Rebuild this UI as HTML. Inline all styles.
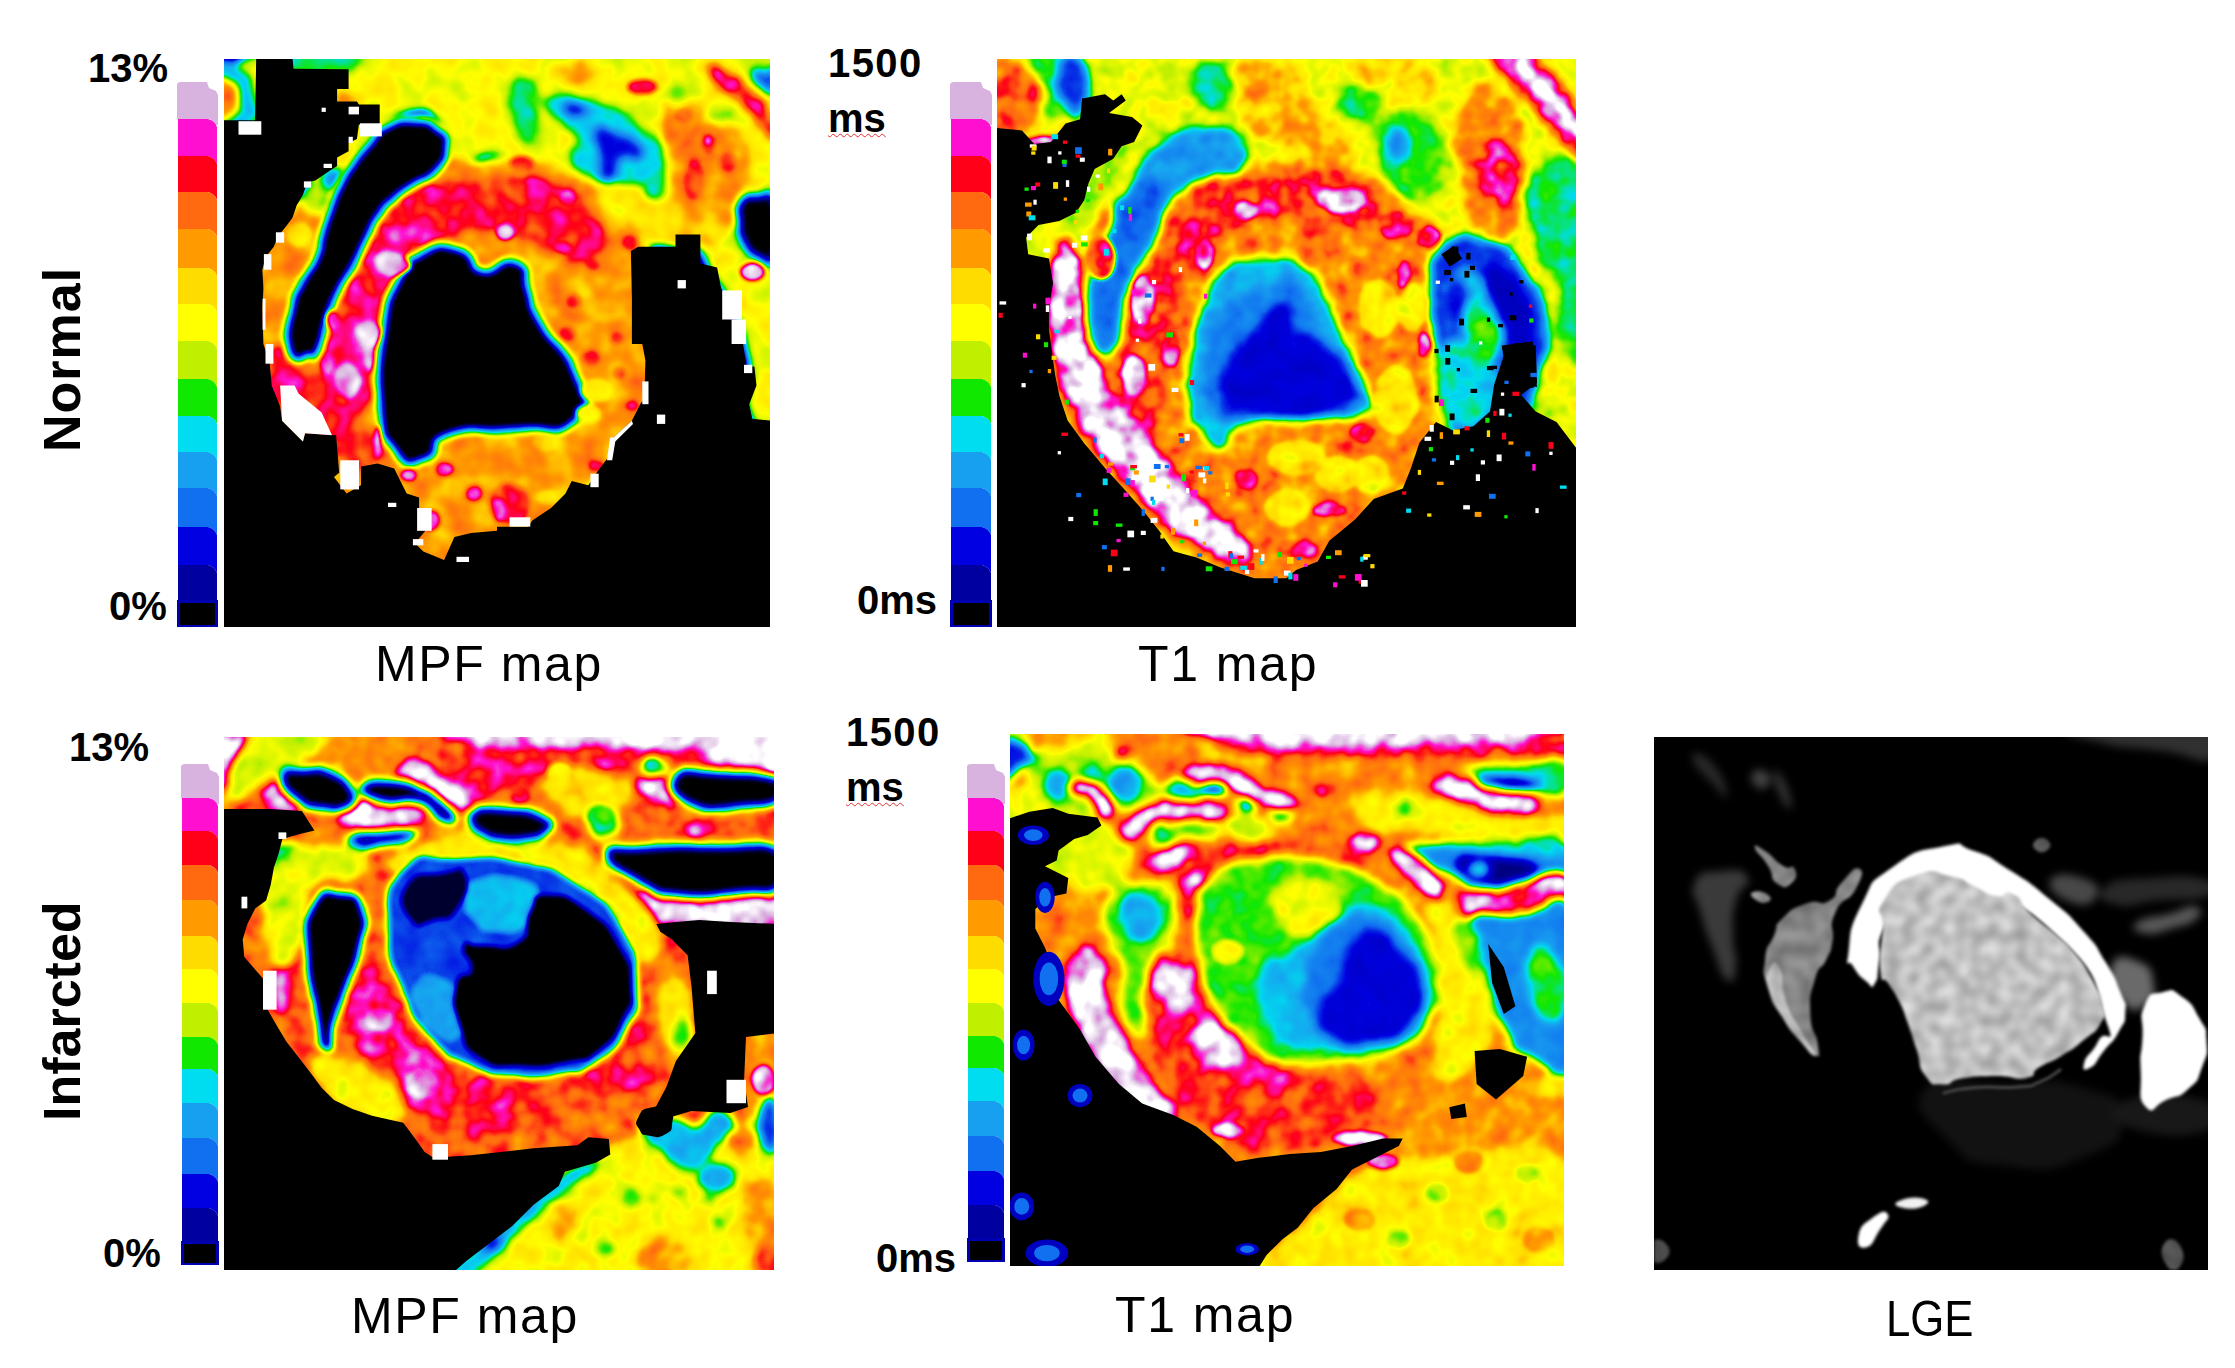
<!DOCTYPE html>
<html><head><meta charset="utf-8"><title>MPF / T1 / LGE maps</title>
<style>
html,body{margin:0;padding:0;background:#fff;}
body{width:2235px;height:1368px;position:relative;overflow:hidden;font-family:"Liberation Sans",sans-serif;color:#000;}
.abs{position:absolute;display:block;}
.t{position:absolute;white-space:nowrap;line-height:1;}
.b{font-weight:bold;}
.rot{transform-origin:0 0;transform:rotate(-90deg);}
.sq{text-decoration:underline wavy #e03030 1px;text-underline-offset:1px;}
</style></head><body>
<svg class="abs" style="left:177px;top:82px" width="41" height="545" viewBox="0 0 41 545"><path d="M0 37 L0 3 Q0 0 4 0 L30 0 L32 6 L39 9 L41 13 L41 43 L37 43 L33 37Z" fill="#d9b3e0"/><path d="M1 37 L31 37 Q38 39 40 45 L40 82 Q38 76 31 74 L1 74Z" fill="#ff10d0"/><path d="M1 74 L31 74 Q38 76 40 82 L40 118 Q38 112 31 110 L1 110Z" fill="#ff0018"/><path d="M1 110 L31 110 Q38 112 40 118 L40 155 Q38 149 31 147 L1 147Z" fill="#ff6a10"/><path d="M1 147 L31 147 Q38 149 40 155 L40 194 Q38 188 31 186 L1 186Z" fill="#ff9a00"/><path d="M1 186 L31 186 Q38 188 40 194 L40 230 Q38 224 31 222 L1 222Z" fill="#ffdc00"/><path d="M1 222 L31 222 Q38 224 40 230 L40 267 Q38 261 31 259 L1 259Z" fill="#ffff00"/><path d="M1 259 L31 259 Q38 261 40 267 L40 305 Q38 299 31 297 L1 297Z" fill="#c0f000"/><path d="M1 297 L31 297 Q38 299 40 305 L40 342 Q38 336 31 334 L1 334Z" fill="#10e800"/><path d="M1 334 L31 334 Q38 336 40 342 L40 378 Q38 372 31 370 L1 370Z" fill="#00dcf0"/><path d="M1 370 L31 370 Q38 372 40 378 L40 414 Q38 408 31 406 L1 406Z" fill="#18a0f0"/><path d="M1 406 L31 406 Q38 408 40 414 L40 453 Q38 447 31 445 L1 445Z" fill="#1070f0"/><path d="M1 445 L31 445 Q38 447 40 453 L40 491 Q38 485 31 483 L1 483Z" fill="#0000e0"/><path d="M1 483 L31 483 Q38 485 40 491 L40 526 Q38 520 31 518 L1 518Z" fill="#0000a0"/><rect x="0" y="518" width="41" height="27" fill="#0000b0"/><rect x="3" y="521" width="35" height="22" fill="#000000"/></svg>
<svg class="abs" style="left:950px;top:82px" width="42" height="545" viewBox="0 0 42 545"><path d="M0 37 L0 3 Q0 0 4 0 L31 0 L33 6 L40 9 L42 13 L42 43 L38 43 L34 37Z" fill="#d9b3e0"/><path d="M1 37 L32 37 Q39 39 41 45 L41 82 Q39 76 32 74 L1 74Z" fill="#ff10d0"/><path d="M1 74 L32 74 Q39 76 41 82 L41 118 Q39 112 32 110 L1 110Z" fill="#ff0018"/><path d="M1 110 L32 110 Q39 112 41 118 L41 155 Q39 149 32 147 L1 147Z" fill="#ff6a10"/><path d="M1 147 L32 147 Q39 149 41 155 L41 194 Q39 188 32 186 L1 186Z" fill="#ff9a00"/><path d="M1 186 L32 186 Q39 188 41 194 L41 230 Q39 224 32 222 L1 222Z" fill="#ffdc00"/><path d="M1 222 L32 222 Q39 224 41 230 L41 267 Q39 261 32 259 L1 259Z" fill="#ffff00"/><path d="M1 259 L32 259 Q39 261 41 267 L41 305 Q39 299 32 297 L1 297Z" fill="#c0f000"/><path d="M1 297 L32 297 Q39 299 41 305 L41 342 Q39 336 32 334 L1 334Z" fill="#10e800"/><path d="M1 334 L32 334 Q39 336 41 342 L41 378 Q39 372 32 370 L1 370Z" fill="#00dcf0"/><path d="M1 370 L32 370 Q39 372 41 378 L41 414 Q39 408 32 406 L1 406Z" fill="#18a0f0"/><path d="M1 406 L32 406 Q39 408 41 414 L41 453 Q39 447 32 445 L1 445Z" fill="#1070f0"/><path d="M1 445 L32 445 Q39 447 41 453 L41 491 Q39 485 32 483 L1 483Z" fill="#0000e0"/><path d="M1 483 L32 483 Q39 485 41 491 L41 526 Q39 520 32 518 L1 518Z" fill="#0000a0"/><rect x="0" y="518" width="42" height="27" fill="#0000b0"/><rect x="3" y="521" width="36" height="22" fill="#000000"/></svg>
<svg class="abs" style="left:181px;top:764px" width="38" height="501" viewBox="0 0 38 501"><path d="M0 34 L0 3 Q0 0 4 0 L27 0 L29 6 L36 9 L38 13 L38 40 L34 40 L30 34Z" fill="#d9b3e0"/><path d="M1 34 L28 34 Q35 36 37 42 L37 75 Q35 69 28 67 L1 67Z" fill="#ff10d0"/><path d="M1 67 L28 67 Q35 69 37 75 L37 109 Q35 103 28 101 L1 101Z" fill="#ff0018"/><path d="M1 101 L28 101 Q35 103 37 109 L37 144 Q35 138 28 136 L1 136Z" fill="#ff6a10"/><path d="M1 136 L28 136 Q35 138 37 144 L37 180 Q35 174 28 172 L1 172Z" fill="#ff9a00"/><path d="M1 172 L28 172 Q35 174 37 180 L37 213 Q35 207 28 205 L1 205Z" fill="#ffdc00"/><path d="M1 205 L28 205 Q35 207 37 213 L37 247 Q35 241 28 239 L1 239Z" fill="#ffff00"/><path d="M1 239 L28 239 Q35 241 37 247 L37 281 Q35 275 28 273 L1 273Z" fill="#c0f000"/><path d="M1 273 L28 273 Q35 275 37 281 L37 313 Q35 307 28 305 L1 305Z" fill="#10e800"/><path d="M1 305 L28 305 Q35 307 37 313 L37 347 Q35 341 28 339 L1 339Z" fill="#00dcf0"/><path d="M1 339 L28 339 Q35 341 37 347 L37 382 Q35 376 28 374 L1 374Z" fill="#18a0f0"/><path d="M1 374 L28 374 Q35 376 37 382 L37 418 Q35 412 28 410 L1 410Z" fill="#1070f0"/><path d="M1 410 L28 410 Q35 412 37 418 L37 452 Q35 446 28 444 L1 444Z" fill="#0000e0"/><path d="M1 444 L28 444 Q35 446 37 452 L37 485 Q35 479 28 477 L1 477Z" fill="#0000a0"/><rect x="0" y="477" width="38" height="24" fill="#0000b0"/><rect x="3" y="480" width="32" height="19" fill="#000000"/></svg>
<svg class="abs" style="left:967px;top:764px" width="38" height="498" viewBox="0 0 38 498"><path d="M0 34 L0 3 Q0 0 4 0 L27 0 L29 6 L36 9 L38 13 L38 40 L34 40 L30 34Z" fill="#d9b3e0"/><path d="M1 34 L28 34 Q35 36 37 42 L37 75 Q35 69 28 67 L1 67Z" fill="#ff10d0"/><path d="M1 67 L28 67 Q35 69 37 75 L37 109 Q35 103 28 101 L1 101Z" fill="#ff0018"/><path d="M1 101 L28 101 Q35 103 37 109 L37 144 Q35 138 28 136 L1 136Z" fill="#ff6a10"/><path d="M1 136 L28 136 Q35 138 37 144 L37 180 Q35 174 28 172 L1 172Z" fill="#ff9a00"/><path d="M1 172 L28 172 Q35 174 37 180 L37 213 Q35 207 28 205 L1 205Z" fill="#ffdc00"/><path d="M1 205 L28 205 Q35 207 37 213 L37 247 Q35 241 28 239 L1 239Z" fill="#ffff00"/><path d="M1 239 L28 239 Q35 241 37 247 L37 280 Q35 274 28 272 L1 272Z" fill="#c0f000"/><path d="M1 272 L28 272 Q35 274 37 280 L37 312 Q35 306 28 304 L1 304Z" fill="#10e800"/><path d="M1 304 L28 304 Q35 306 37 312 L37 345 Q35 339 28 337 L1 337Z" fill="#00dcf0"/><path d="M1 337 L28 337 Q35 339 37 345 L37 380 Q35 374 28 372 L1 372Z" fill="#18a0f0"/><path d="M1 372 L28 372 Q35 374 37 380 L37 415 Q35 409 28 407 L1 407Z" fill="#1070f0"/><path d="M1 407 L28 407 Q35 409 37 415 L37 449 Q35 443 28 441 L1 441Z" fill="#0000e0"/><path d="M1 441 L28 441 Q35 443 37 449 L37 482 Q35 476 28 474 L1 474Z" fill="#0000a0"/><rect x="0" y="474" width="38" height="24" fill="#0000b0"/><rect x="3" y="477" width="32" height="19" fill="#000000"/></svg>
<!-- panels -->
<svg class="abs" style="left:224px;top:59px" width="546" height="568" viewBox="224 59 546 568"><defs><filter id="p1j" filterUnits="userSpaceOnUse" x="224" y="59" width="546" height="568" color-interpolation-filters="sRGB">
<feTurbulence type="fractalNoise" baseFrequency="0.04" numOctaves="2" seed="3" result="n"/>
<feColorMatrix in="n" type="matrix" values="1 0 0 0 0  1 0 0 0 0  1 0 0 0 0  0 0 0 0 1" result="ng"/>
<feComposite in="SourceGraphic" in2="ng" operator="arithmetic" k1="0.32" k2="0.84" k3="0" k4="0" result="v"/>
<feComponentTransfer in="v"><feFuncR type="table" tableValues="0.000 0.000 0.000 0.063 0.094 0.000 0.063 0.753 1.000 1.000 1.000 1.000 1.000 1.000 0.851 1.000"/><feFuncG type="table" tableValues="0.000 0.000 0.000 0.439 0.627 0.863 0.910 0.941 1.000 0.863 0.604 0.416 0.000 0.063 0.702 1.000"/><feFuncB type="table" tableValues="0.000 0.627 0.878 0.941 0.941 0.941 0.000 0.000 0.000 0.000 0.000 0.063 0.094 0.816 0.878 1.000"/><feFuncA type="table" tableValues="1 1"/></feComponentTransfer>
</filter><filter id="p1c" x="-20%" y="-20%" width="140%" height="140%" color-interpolation-filters="sRGB"><feGaussianBlur stdDeviation="5"/></filter><filter id="p1f" x="-20%" y="-20%" width="140%" height="140%" color-interpolation-filters="sRGB"><feGaussianBlur stdDeviation="2.2"/></filter></defs><rect x="224" y="59" width="546" height="568" fill="#000"/><g filter="url(#p1j)"><rect x="174" y="9" width="646" height="668" fill="#000"/><g filter="url(#p1c)"><path d="M286.2 43.4C446.5 -0.8 620.6 -86.5 787.8 43.4C955.1 173.3 800.3 308.8 787.8 433.1C775.4 557.5 764.4 444.2 750.5 416.6C736.7 388.9 758.8 397.2 746.4 350.2C734 303.2 735.3 314.3 713.2 275.6C691.1 236.9 704.9 245.2 680.1 234.1C655.2 223.1 660.7 247.9 638.6 242.4C616.5 236.9 655.2 245.2 613.7 217.5C572.3 189.9 566.7 177.5 514.2 159.5C461.7 141.5 481 176.1 456.2 163.6C431.3 151.2 456.2 138.8 439.6 122.2C423 105.6 425.8 108.4 406.4 113.9C387.1 119.4 400.9 120.8 381.5 138.8C362.2 156.7 373.3 155.4 348.4 167.8C323.5 180.2 327.6 217.5 306.9 176.1C286.2 134.6 125.9 87.6 286.2 43.4Z" fill="#888888"/>
<path d="M286.3 51.7C306.3 45.5 329.2 46.2 352.7 51.7C376.2 57.2 361 61.4 356.9 68.3C352.7 75.2 361.7 71.8 340.3 72.5C318.8 73.1 310.5 77.3 292.5 70.4C274.5 63.5 266.2 57.9 286.3 51.7Z" fill="#5e5e5e"/>
<path d="M248.9 275.6C251.6 216.2 250.3 259 265.5 234.1C280.7 209.3 275.1 218.9 294.5 201C313.8 183 305.5 185.8 323.5 180.2C341.5 174.7 334.6 189.9 348.4 184.4C362.2 178.9 348.4 181.6 365 163.6C381.5 145.7 373.3 142.9 398.1 130.5C423 118 420.2 116.7 439.6 126.3C458.9 136 431.3 148.4 456.2 159.5C481 170.6 474.1 154 514.2 159.5C554.3 165 540.5 155.4 576.4 176.1C612.3 196.8 597.1 195.4 622 221.7C646.9 247.9 644.1 231.4 651 254.9C657.9 278.4 641.4 260.4 642.7 292.2C644.1 324 653.8 308.8 655.2 350.2C656.6 391.7 659.3 380.6 646.9 416.6C634.4 452.5 637.2 433.1 617.9 458C598.5 482.9 609.6 470.4 588.8 491.2C568.1 511.9 577.8 503.6 555.7 520.2C533.6 536.8 550.1 531.3 522.5 540.9C494.9 550.6 500.4 539.5 472.8 549.2C445.1 558.9 464.5 567.2 439.6 570C414.7 572.7 417.5 582.4 398.1 557.5C378.8 532.6 403.7 514.7 381.5 495.3C359.4 476 359.4 513.3 331.8 499.5C304.2 485.6 323.5 482.9 298.6 453.9C273.8 424.8 273.8 471.8 257.2 412.4C240.6 353 246.1 335 248.9 275.6Z" fill="#aaaaaa"/>
<path d="M663.1 107.7C668.6 90.4 670 101.5 683.8 101.5C697.7 101.5 687.3 98.8 704.6 107.7C721.9 116.7 719.8 109.8 735.7 128.5C751.7 147.2 748.9 138.2 752.3 163.8C755.8 189.4 755.1 182.5 746.1 205.3C737.1 228.2 746.1 221.2 725.4 232.3C704.6 243.4 706 240.6 683.8 238.5C661.7 236.5 663.1 241.3 658.9 226.1C654.8 210.9 668.6 217.1 671.4 192.9C674.2 168.6 670 181.8 667.2 153.4C664.5 125 657.5 125 663.1 107.7Z" fill="#afafaf"/>
<path d="M555.1 66.2C561.4 60.7 562.7 61.4 575.9 62.1C589 62.8 589 62.1 594.6 68.3C600.1 74.5 600.1 75.6 592.5 80.8C584.9 85.9 583.5 84.6 571.7 83.9C560 83.2 562.7 84.6 557.2 78.7C551.7 72.8 548.9 71.8 555.1 66.2Z" fill="#aaaaaa"/>
<path d="M511.5 84.9C515.7 70.4 517.1 78 526.1 78.7C535.1 79.4 534.4 75.2 538.5 87C542.7 98.8 539.9 96.7 538.5 114C537.1 131.3 539.9 129.2 534.4 138.9C528.8 148.6 528.8 148.6 521.9 143C515 137.5 517.1 141.7 513.6 122.3C510.1 102.9 507.4 99.4 511.5 84.9Z" fill="#5e5e5e"/>
<path d="M544.7 99.4C551.7 93.9 550.3 94.6 567.6 95.3C584.9 96 578.7 96 596.6 101.5C614.6 107.1 606.3 102.9 621.6 111.9C636.8 120.9 629.2 118.1 642.3 128.5C655.5 138.9 653.4 129.9 661 143C668.6 156.2 665.2 151.3 665.2 168C665.2 184.6 667.2 183.2 661 192.9C654.8 202.6 654.1 199.8 646.5 197C638.9 194.2 649.2 188.7 638.2 184.6C627.1 180.4 630.6 187.3 613.3 184.6C596 181.8 600.8 185.3 586.3 176.3C571.7 167.3 573.1 170 569.7 157.6C566.2 145.1 579.3 150 575.9 138.9C572.4 127.8 569 133.4 559.3 124.4C549.6 115.4 551.7 120.2 546.8 111.9C542 103.6 537.8 105 544.7 99.4Z" fill="#555555"/>
<path d="M563.4 104.6C568.3 101.5 572.4 101.2 580 103.6C587.7 106 587.7 107.4 586.3 111.9C584.9 116.4 582.8 116.7 575.9 117.1C569 117.4 569.7 117.1 565.5 112.9C561.4 108.8 558.6 107.7 563.4 104.6Z" fill="#222222"/>
<path d="M596.6 130.6C600.8 123 599.4 127.1 613.3 132.7C627.1 138.2 629.9 138.9 638.2 147.2C646.5 155.5 643.7 154.1 638.2 157.6C632.6 161 629.9 151.3 621.6 157.6C613.3 163.8 619.5 169.3 613.3 176.3C607 183.2 607 185.3 602.9 178.3C598.7 171.4 602.9 171.4 600.8 155.5C598.7 139.6 592.5 138.2 596.6 130.6Z" fill="#222222" stroke="#222222" stroke-width="4" stroke-linejoin="round"/>
<path d="M667.2 87C671.4 81.8 677.6 81.5 683.8 85.9C690.1 90.4 690.1 95.3 685.9 100.5C681.8 105.7 677.6 106 671.4 101.5C665.2 97 663.1 92.2 667.2 87Z" fill="#666666"/>
<path d="M708.8 108.8C715 105 722.6 105.3 729.5 109.8C736.4 114.3 735.7 118.5 729.5 122.3C723.3 126.1 717.7 125.7 710.8 121.2C703.9 116.7 702.5 112.6 708.8 108.8Z" fill="#6e6e6e"/>
<path d="M735.7 99.4C740.6 94.6 745.1 98.1 756.5 114C767.9 129.9 765.5 120.9 770 147.2C774.5 173.5 777.9 177.6 770 192.9C762 208.1 752 203.9 746.1 192.9C740.2 181.8 753.7 181.1 752.3 159.6C751 138.2 747.5 148.6 742 128.5C736.4 108.4 730.9 104.3 735.7 99.4Z" fill="#888888"/>
<path d="M708.8 68.3C710.1 62.8 711.5 62.8 725.4 70.4C739.2 78 735.4 76.6 750.3 91.1C765.1 105.7 761.7 98.1 770 114C778.3 129.9 777.6 134 775.2 138.9C772.8 143.7 773.8 140.3 762.7 128.5C751.7 116.7 755.8 117.4 742 103.6C728.1 89.8 732.3 98.8 721.2 87C710.1 75.2 707.4 73.8 708.8 68.3Z" fill="#d4d4d4" stroke="#d4d4d4" stroke-width="2" stroke-linejoin="round"/>
<path d="M752.3 66.2C757.2 58.6 767.6 55.8 775.2 64.2C782.8 72.5 780 83.5 775.2 91.1C770.3 98.8 768.3 95.3 760.6 87C753 78.7 747.5 73.8 752.3 66.2Z" fill="#2a2a2a"/>
<path d="M731.6 53.8C739.9 48.9 760.6 48.9 775.2 53.8C789.7 58.6 783.5 63.5 775.2 68.3C766.9 73.1 764.8 73.1 750.3 68.3C735.7 63.5 723.3 58.6 731.6 53.8Z" fill="#777777"/>
<path d="M740.9 201.2C746.8 192.9 745.1 196.3 756.5 197C767.9 197.7 769 183.9 775.2 203.2C781.4 222.6 780.7 237.2 775.2 255.1C769.6 273.1 769 261.4 758.6 257.2C748.2 253.1 750.6 254.5 744 242.7C737.5 230.9 739.9 235.8 738.9 221.9C737.8 208.1 735 209.5 740.9 201.2Z" fill="#000000" stroke="#000000" stroke-width="3.0" stroke-linejoin="round"/>
<path d="M305 186.6C311.2 179.7 312.6 180.4 321.6 182.5C330.6 184.6 329.9 183.9 332 192.9C334 201.9 334.7 202.6 327.8 209.5C320.9 216.4 319.5 215.7 311.2 213.6C302.9 211.5 305 212.2 302.9 203.2C300.8 194.2 298.7 193.6 305 186.6Z" fill="#6e6e6e"/>
<path d="M323.6 172.1C327.1 165.9 333.3 165.9 340.3 170C347.2 174.2 347.9 178.3 344.4 184.6C340.9 190.8 336.8 192.9 329.9 188.7C323 184.6 320.2 178.3 323.6 172.1Z" fill="#3c3c3c"/>
<path d="M337.1 143C347.5 133.4 357.2 135.4 369.3 138.9C381.4 142.3 377.6 143.7 373.5 153.4C369.3 163.1 368.6 163.1 356.9 168C345.1 172.8 344.8 176.3 338.2 168C331.6 159.6 326.8 152.7 337.1 143Z" fill="#909090"/>
<path d="M338.2 91.1C344.4 87 351.3 88.4 358.9 93.2C366.6 98.1 367.2 101.5 361 105.7C354.8 109.8 347.9 110.5 340.3 105.7C332.6 100.8 332 95.3 338.2 91.1Z" fill="#aaaaaa"/>
<path d="M406.4 188.5C434.1 173.3 420.2 184.4 456.2 180.2C492.1 176.1 481 174.7 514.2 176.1C547.4 177.5 530.8 174.7 555.7 184.4C580.6 194.1 570.9 187.1 588.8 205.1C606.8 223.1 606.8 220.3 609.6 238.3C612.3 256.2 615.1 253.5 597.1 259C579.2 264.5 580.6 261.8 555.7 254.9C530.8 247.9 547.4 246.6 522.5 238.3C497.6 230 508.7 228.6 481 230C453.4 231.4 464.5 228.6 439.6 242.4C414.7 256.2 423 246.6 406.4 271.4C389.8 296.3 399.5 282.5 389.8 317C380.2 351.6 385.7 341.9 377.4 375.1C369.1 408.3 381.5 397.2 365 416.6C348.4 435.9 355.3 433.1 327.6 433.1C300 433.1 300 433.1 282 416.6C264.1 400 264.1 397.2 273.8 383.4C283.4 369.6 294.5 397.2 311.1 375.1C327.6 353 311.1 353 323.5 317C335.9 281.1 331.8 297.7 348.4 267.3C365 236.9 353.9 252.1 373.3 225.8C392.6 199.6 378.8 203.7 406.4 188.5Z" fill="#cccccc"/>
<path d="M464.8 205.3C451 202.6 457.2 201.2 442 201.2C426.8 201.2 432.3 198.4 419.1 205.3C406 212.2 415 210.9 402.5 221.9C390.1 233 392.8 226.1 381.8 238.5C370.7 251 377.6 244.1 369.3 259.3C361 274.5 365.2 269 356.9 284.2C348.6 299.4 354.1 289.7 344.4 305C334.7 320.2 335.4 311.2 327.8 329.9C320.2 348.6 320.2 343 321.6 361C323 379 320.2 376.2 332 383.9C343.7 391.5 341.6 391.5 356.9 383.9C372.1 376.2 367.2 382.5 377.6 361C388 339.6 383.9 342.3 388 319.5C392.2 296.7 385.2 308.4 390.1 292.5C394.9 276.6 392.8 285.6 402.5 271.8C412.2 257.9 406.7 264.1 419.1 251C431.6 237.8 426.1 241.3 439.9 232.3C453.7 223.3 447.5 227.5 460.7 224C473.8 220.5 471.7 226.8 479.3 221.9C487 217.1 488.3 215 483.5 209.5C478.7 203.9 478.7 208.1 464.8 205.3Z" fill="#d6d6d6"/>
<path d="M271.7 344C287 340.5 288.4 344 311.2 364.8C334 385.5 320.9 384.1 340.3 406.3C359.6 428.4 354.1 414.6 369.3 431.2C384.5 447.8 385.9 443.6 385.9 456.1C385.9 468.6 384.5 467.2 369.3 468.6C354.1 469.9 361 470.6 340.3 460.3C319.5 449.9 327.8 454 307 437.4C286.3 420.8 291.8 431.2 278 410.4C264.1 389.7 267.6 397.3 265.5 375.1C263.4 353 256.5 347.5 271.7 344Z" fill="#cccccc"/>
<path d="M211.5 68.3C221.9 51 228.2 60.7 242.7 70.4C257.2 80.1 252.4 80.1 255.1 97.4C257.9 114.7 265.5 114 251 122.3C236.5 130.6 224.7 140.3 211.5 122.3C198.4 104.3 201.2 85.6 211.5 68.3Z" fill="#4c4c4c"/>
<path d="M211.5 84.9C217.8 74.9 221.9 79.7 230.2 83.9C238.5 88 235.8 87.3 236.5 97.4C237.1 107.4 240.6 108.4 232.3 114C224 119.5 218.5 123.7 211.5 114C204.6 104.3 205.3 94.9 211.5 84.9Z" fill="#bbbbbb" stroke="#bbbbbb" stroke-width="2" stroke-linejoin="round"/>
<path d="M621.6 205.3C632.6 192.9 635.4 199.8 663.1 201.2C690.8 202.6 683.8 199.8 704.6 209.5C725.4 219.2 725.4 217.8 725.4 230.2C725.4 242.7 725.4 241.3 704.6 246.8C683.8 252.4 688 249.6 663.1 246.8C638.2 244.1 643.7 252.4 629.9 238.5C616 224.7 610.5 217.8 621.6 205.3Z" fill="#9e9e9e"/>
<path d="M596.6 194.9C598 183.9 606.3 181.1 625.7 184.6C645.1 188 635.4 194.2 654.8 205.3C674.2 216.4 675.5 208.8 683.8 217.8C692.1 226.8 689.4 228.2 679.7 232.3C670 236.5 674.2 235.1 654.8 230.2C635.4 225.4 640.9 229.5 621.6 217.8C602.2 206 595.3 206 596.6 194.9Z" fill="#929292"/></g><g filter="url(#p1f)"><path d="M442 147.2C442.7 135.4 442.7 139.6 433.7 132.7C424.7 125.7 429.5 127.1 415 126.4C400.5 125.7 403.9 123.7 390.1 130.6C376.2 137.5 384.5 134.7 373.5 147.2C362.4 159.6 366.6 154.1 356.9 168C347.2 181.8 351.3 174.9 344.4 188.7C337.5 202.6 341.6 194.2 336.1 209.5C330.6 224.7 332.6 217.8 327.8 234.4C323 251 328.5 242.7 321.6 259.3C314.7 275.9 315.3 267.6 307 284.2C298.7 300.8 301.2 288.4 296.7 309.1C292.2 329.9 290.1 332.6 293.5 346.5C297 360.3 299.8 351.5 307 350.6C314.3 349.8 310.5 354.4 315.3 344C320.2 333.6 316 336.7 321.6 319.5C327.1 302.3 323 311.2 332 292.5C340.9 273.8 338.9 281.4 348.6 263.4C358.2 245.5 352.7 255.1 361 238.5C369.3 221.9 363.8 228.2 373.5 213.6C383.2 199.1 377.6 206 390.1 194.9C402.5 183.9 397 189.4 410.8 180.4C424.7 171.4 421.2 179 431.6 168C442 156.9 441.3 159 442 147.2Z" fill="#888888" stroke="#888888" stroke-width="22" stroke-linejoin="round"/>
<path d="M442 147.2C442.7 135.4 442.7 139.6 433.7 132.7C424.7 125.7 429.5 127.1 415 126.4C400.5 125.7 403.9 123.7 390.1 130.6C376.2 137.5 384.5 134.7 373.5 147.2C362.4 159.6 366.6 154.1 356.9 168C347.2 181.8 351.3 174.9 344.4 188.7C337.5 202.6 341.6 194.2 336.1 209.5C330.6 224.7 332.6 217.8 327.8 234.4C323 251 328.5 242.7 321.6 259.3C314.7 275.9 315.3 267.6 307 284.2C298.7 300.8 301.2 288.4 296.7 309.1C292.2 329.9 290.1 332.6 293.5 346.5C297 360.3 299.8 351.5 307 350.6C314.3 349.8 310.5 354.4 315.3 344C320.2 333.6 316 336.7 321.6 319.5C327.1 302.3 323 311.2 332 292.5C340.9 273.8 338.9 281.4 348.6 263.4C358.2 245.5 352.7 255.1 361 238.5C369.3 221.9 363.8 228.2 373.5 213.6C383.2 199.1 377.6 206 390.1 194.9C402.5 183.9 397 189.4 410.8 180.4C424.7 171.4 421.2 179 431.6 168C442 156.9 441.3 159 442 147.2Z" fill="#6e6e6e" stroke="#6e6e6e" stroke-width="18" stroke-linejoin="round"/>
<path d="M442 147.2C442.7 135.4 442.7 139.6 433.7 132.7C424.7 125.7 429.5 127.1 415 126.4C400.5 125.7 403.9 123.7 390.1 130.6C376.2 137.5 384.5 134.7 373.5 147.2C362.4 159.6 366.6 154.1 356.9 168C347.2 181.8 351.3 174.9 344.4 188.7C337.5 202.6 341.6 194.2 336.1 209.5C330.6 224.7 332.6 217.8 327.8 234.4C323 251 328.5 242.7 321.6 259.3C314.7 275.9 315.3 267.6 307 284.2C298.7 300.8 301.2 288.4 296.7 309.1C292.2 329.9 290.1 332.6 293.5 346.5C297 360.3 299.8 351.5 307 350.6C314.3 349.8 310.5 354.4 315.3 344C320.2 333.6 316 336.7 321.6 319.5C327.1 302.3 323 311.2 332 292.5C340.9 273.8 338.9 281.4 348.6 263.4C358.2 245.5 352.7 255.1 361 238.5C369.3 221.9 363.8 228.2 373.5 213.6C383.2 199.1 377.6 206 390.1 194.9C402.5 183.9 397 189.4 410.8 180.4C424.7 171.4 421.2 179 431.6 168C442 156.9 441.3 159 442 147.2Z" fill="#555555" stroke="#555555" stroke-width="14" stroke-linejoin="round"/>
<path d="M442 147.2C442.7 135.4 442.7 139.6 433.7 132.7C424.7 125.7 429.5 127.1 415 126.4C400.5 125.7 403.9 123.7 390.1 130.6C376.2 137.5 384.5 134.7 373.5 147.2C362.4 159.6 366.6 154.1 356.9 168C347.2 181.8 351.3 174.9 344.4 188.7C337.5 202.6 341.6 194.2 336.1 209.5C330.6 224.7 332.6 217.8 327.8 234.4C323 251 328.5 242.7 321.6 259.3C314.7 275.9 315.3 267.6 307 284.2C298.7 300.8 301.2 288.4 296.7 309.1C292.2 329.9 290.1 332.6 293.5 346.5C297 360.3 299.8 351.5 307 350.6C314.3 349.8 310.5 354.4 315.3 344C320.2 333.6 316 336.7 321.6 319.5C327.1 302.3 323 311.2 332 292.5C340.9 273.8 338.9 281.4 348.6 263.4C358.2 245.5 352.7 255.1 361 238.5C369.3 221.9 363.8 228.2 373.5 213.6C383.2 199.1 377.6 206 390.1 194.9C402.5 183.9 397 189.4 410.8 180.4C424.7 171.4 421.2 179 431.6 168C442 156.9 441.3 159 442 147.2Z" fill="#3c3c3c" stroke="#3c3c3c" stroke-width="10" stroke-linejoin="round"/>
<path d="M442 147.2C442.7 135.4 442.7 139.6 433.7 132.7C424.7 125.7 429.5 127.1 415 126.4C400.5 125.7 403.9 123.7 390.1 130.6C376.2 137.5 384.5 134.7 373.5 147.2C362.4 159.6 366.6 154.1 356.9 168C347.2 181.8 351.3 174.9 344.4 188.7C337.5 202.6 341.6 194.2 336.1 209.5C330.6 224.7 332.6 217.8 327.8 234.4C323 251 328.5 242.7 321.6 259.3C314.7 275.9 315.3 267.6 307 284.2C298.7 300.8 301.2 288.4 296.7 309.1C292.2 329.9 290.1 332.6 293.5 346.5C297 360.3 299.8 351.5 307 350.6C314.3 349.8 310.5 354.4 315.3 344C320.2 333.6 316 336.7 321.6 319.5C327.1 302.3 323 311.2 332 292.5C340.9 273.8 338.9 281.4 348.6 263.4C358.2 245.5 352.7 255.1 361 238.5C369.3 221.9 363.8 228.2 373.5 213.6C383.2 199.1 377.6 206 390.1 194.9C402.5 183.9 397 189.4 410.8 180.4C424.7 171.4 421.2 179 431.6 168C442 156.9 441.3 159 442 147.2Z" fill="#222222" stroke="#222222" stroke-width="6" stroke-linejoin="round"/>
<path d="M442 147.2C442.7 135.4 442.7 139.6 433.7 132.7C424.7 125.7 429.5 127.1 415 126.4C400.5 125.7 403.9 123.7 390.1 130.6C376.2 137.5 384.5 134.7 373.5 147.2C362.4 159.6 366.6 154.1 356.9 168C347.2 181.8 351.3 174.9 344.4 188.7C337.5 202.6 341.6 194.2 336.1 209.5C330.6 224.7 332.6 217.8 327.8 234.4C323 251 328.5 242.7 321.6 259.3C314.7 275.9 315.3 267.6 307 284.2C298.7 300.8 301.2 288.4 296.7 309.1C292.2 329.9 290.1 332.6 293.5 346.5C297 360.3 299.8 351.5 307 350.6C314.3 349.8 310.5 354.4 315.3 344C320.2 333.6 316 336.7 321.6 319.5C327.1 302.3 323 311.2 332 292.5C340.9 273.8 338.9 281.4 348.6 263.4C358.2 245.5 352.7 255.1 361 238.5C369.3 221.9 363.8 228.2 373.5 213.6C383.2 199.1 377.6 206 390.1 194.9C402.5 183.9 397 189.4 410.8 180.4C424.7 171.4 421.2 179 431.6 168C442 156.9 441.3 159 442 147.2Z" fill="#000000" stroke="#000000" stroke-width="2" stroke-linejoin="round"/>
<path d="M423 259C441 249.1 436.8 248.5 456.2 254C475.5 259.6 461.7 271.2 481 275.6C500.4 280 500.1 261.8 514.2 267.3C528.3 272.8 516.2 272.8 523.3 292.2C530.5 311.5 520.2 297.7 535.8 325.3C551.4 353 558.3 344.4 570.2 375.1C582.1 405.8 590.1 400.8 571.4 417.4C552.8 434 555.4 420.7 514.2 424.8C473 429 478.3 419.9 447.9 429.8C417.5 439.8 439.6 449.2 423 454.7C406.4 460.2 410.8 463.3 398.1 446.4C385.4 429.5 387.9 443.1 384.9 404.1C381.8 365.1 383.2 369.6 389 329.5C394.8 289.4 390.9 307.4 402.3 283.9C413.6 260.4 405 269 423 259Z" fill="#888888" stroke="#888888" stroke-width="22" stroke-linejoin="round"/>
<path d="M423 259C441 249.1 436.8 248.5 456.2 254C475.5 259.6 461.7 271.2 481 275.6C500.4 280 500.1 261.8 514.2 267.3C528.3 272.8 516.2 272.8 523.3 292.2C530.5 311.5 520.2 297.7 535.8 325.3C551.4 353 558.3 344.4 570.2 375.1C582.1 405.8 590.1 400.8 571.4 417.4C552.8 434 555.4 420.7 514.2 424.8C473 429 478.3 419.9 447.9 429.8C417.5 439.8 439.6 449.2 423 454.7C406.4 460.2 410.8 463.3 398.1 446.4C385.4 429.5 387.9 443.1 384.9 404.1C381.8 365.1 383.2 369.6 389 329.5C394.8 289.4 390.9 307.4 402.3 283.9C413.6 260.4 405 269 423 259Z" fill="#6e6e6e" stroke="#6e6e6e" stroke-width="18" stroke-linejoin="round"/>
<path d="M423 259C441 249.1 436.8 248.5 456.2 254C475.5 259.6 461.7 271.2 481 275.6C500.4 280 500.1 261.8 514.2 267.3C528.3 272.8 516.2 272.8 523.3 292.2C530.5 311.5 520.2 297.7 535.8 325.3C551.4 353 558.3 344.4 570.2 375.1C582.1 405.8 590.1 400.8 571.4 417.4C552.8 434 555.4 420.7 514.2 424.8C473 429 478.3 419.9 447.9 429.8C417.5 439.8 439.6 449.2 423 454.7C406.4 460.2 410.8 463.3 398.1 446.4C385.4 429.5 387.9 443.1 384.9 404.1C381.8 365.1 383.2 369.6 389 329.5C394.8 289.4 390.9 307.4 402.3 283.9C413.6 260.4 405 269 423 259Z" fill="#555555" stroke="#555555" stroke-width="14" stroke-linejoin="round"/>
<path d="M423 259C441 249.1 436.8 248.5 456.2 254C475.5 259.6 461.7 271.2 481 275.6C500.4 280 500.1 261.8 514.2 267.3C528.3 272.8 516.2 272.8 523.3 292.2C530.5 311.5 520.2 297.7 535.8 325.3C551.4 353 558.3 344.4 570.2 375.1C582.1 405.8 590.1 400.8 571.4 417.4C552.8 434 555.4 420.7 514.2 424.8C473 429 478.3 419.9 447.9 429.8C417.5 439.8 439.6 449.2 423 454.7C406.4 460.2 410.8 463.3 398.1 446.4C385.4 429.5 387.9 443.1 384.9 404.1C381.8 365.1 383.2 369.6 389 329.5C394.8 289.4 390.9 307.4 402.3 283.9C413.6 260.4 405 269 423 259Z" fill="#3c3c3c" stroke="#3c3c3c" stroke-width="10" stroke-linejoin="round"/>
<path d="M423 259C441 249.1 436.8 248.5 456.2 254C475.5 259.6 461.7 271.2 481 275.6C500.4 280 500.1 261.8 514.2 267.3C528.3 272.8 516.2 272.8 523.3 292.2C530.5 311.5 520.2 297.7 535.8 325.3C551.4 353 558.3 344.4 570.2 375.1C582.1 405.8 590.1 400.8 571.4 417.4C552.8 434 555.4 420.7 514.2 424.8C473 429 478.3 419.9 447.9 429.8C417.5 439.8 439.6 449.2 423 454.7C406.4 460.2 410.8 463.3 398.1 446.4C385.4 429.5 387.9 443.1 384.9 404.1C381.8 365.1 383.2 369.6 389 329.5C394.8 289.4 390.9 307.4 402.3 283.9C413.6 260.4 405 269 423 259Z" fill="#222222" stroke="#222222" stroke-width="6" stroke-linejoin="round"/>
<path d="M423 259C441 249.1 436.8 248.5 456.2 254C475.5 259.6 461.7 271.2 481 275.6C500.4 280 500.1 261.8 514.2 267.3C528.3 272.8 516.2 272.8 523.3 292.2C530.5 311.5 520.2 297.7 535.8 325.3C551.4 353 558.3 344.4 570.2 375.1C582.1 405.8 590.1 400.8 571.4 417.4C552.8 434 555.4 420.7 514.2 424.8C473 429 478.3 419.9 447.9 429.8C417.5 439.8 439.6 449.2 423 454.7C406.4 460.2 410.8 463.3 398.1 446.4C385.4 429.5 387.9 443.1 384.9 404.1C381.8 365.1 383.2 369.6 389 329.5C394.8 289.4 390.9 307.4 402.3 283.9C413.6 260.4 405 269 423 259Z" fill="#000000" stroke="#000000" stroke-width="2" stroke-linejoin="round"/>
<path d="M379.7 252C388 247.2 399.1 252 406.7 259.3C414.3 266.6 410.8 269 402.5 273.8C394.2 278.7 389.4 281.1 381.8 273.8C374.2 266.6 371.4 256.9 379.7 252Z" fill="#ebebeb"/>
<path d="M327.8 313.3C330.6 308.8 334 309.5 337.1 314.3C340.3 319.2 339.9 323.3 337.1 327.8C334.4 332.3 332 332.6 328.8 327.8C325.7 323 325 317.8 327.8 313.3Z" fill="#ebebeb"/>
<path d="M358.9 324.7C365.2 319.8 371.4 317.2 377.6 323.6C383.9 330.1 381.1 335.7 377.6 344C374.2 352.3 373.5 350.5 367.2 348.6C361 346.6 361.7 346.1 358.9 338.2C356.2 330.2 352.7 329.5 358.9 324.7Z" fill="#ebebeb"/>
<path d="M321.6 355.4C324.7 350.6 328.5 351.3 332 356.5C335.4 361.6 335.1 366.1 332 371C328.8 375.8 326.1 376.2 322.6 371C319.1 365.8 318.5 360.3 321.6 355.4Z" fill="#ebebeb"/>
<path d="M337.1 366.8C342.7 358.5 350.3 360.3 356.9 368.9C363.4 377.6 362.4 384.5 356.9 392.8C351.3 401.1 346.8 402.5 340.3 393.8C333.7 385.2 331.6 375.1 337.1 366.8Z" fill="#eeeeee"/>
<path d="M365.2 339.8C367.6 330.9 370.7 330.9 373.5 339.8C376.2 348.8 375.9 357.8 373.5 366.8C371 375.8 369 375.8 366.2 366.8C363.4 357.8 362.7 348.8 365.2 339.8Z" fill="#ebebeb"/>
<path d="M375.1 431.2C376.8 423.6 378.5 423.6 380.1 431.2C381.8 438.8 381.8 446.4 380.1 454C378.5 461.6 376.8 461.6 375.1 454C373.5 446.4 373.5 438.8 375.1 431.2Z" fill="#e6e6e6"/>
<ellipse cx="505.3" cy="232.3" rx="9.3" ry="8.3" fill="#eeeeee"/>
<ellipse cx="563.4" cy="247.9" rx="8.3" ry="5.8" fill="#e2e2e2"/>
<ellipse cx="567.6" cy="198.1" rx="7.3" ry="7.3" fill="#dddddd"/>
<ellipse cx="642.3" cy="87" rx="15.6" ry="8.3" fill="#c5c5c5"/>
<ellipse cx="683.8" cy="116.1" rx="9.3" ry="6.6" fill="#c5c5c5"/>
<ellipse cx="707.7" cy="143" rx="8.3" ry="10.4" fill="#c5c5c5"/>
<ellipse cx="707.7" cy="141" rx="2.5" ry="4.2" fill="#ffffff"/>
<ellipse cx="694.2" cy="180.4" rx="10.4" ry="19.7" fill="#c2c2c2"/>
<ellipse cx="727.4" cy="161.7" rx="9.3" ry="10.4" fill="#c5c5c5"/>
<ellipse cx="629.9" cy="242.7" rx="8.3" ry="8.3" fill="#c5c5c5"/>
<ellipse cx="592.5" cy="264.5" rx="7.3" ry="6.2" fill="#c5c5c5"/>
<ellipse cx="573.8" cy="300.8" rx="7.3" ry="7.3" fill="#c5c5c5"/>
<ellipse cx="567.6" cy="334" rx="8.3" ry="8.3" fill="#c5c5c5"/>
<ellipse cx="617.4" cy="338.2" rx="7.3" ry="6.2" fill="#c5c5c5"/>
<ellipse cx="752.3" cy="271.8" rx="12.5" ry="9.3" fill="#f6f6f6"/>
<ellipse cx="590.4" cy="358.5" rx="10.4" ry="8.3" fill="#c5c5c5"/>
<ellipse cx="619.5" cy="373.1" rx="6.6" ry="6.2" fill="#c5c5c5"/>
<ellipse cx="631.9" cy="405.2" rx="6.6" ry="5.2" fill="#c5c5c5"/>
<ellipse cx="596.6" cy="466.5" rx="8.3" ry="6.2" fill="#c5c5c5"/>
<ellipse cx="596.6" cy="390.7" rx="16.6" ry="11.4" fill="#909090"/>
<ellipse cx="588.3" cy="413.5" rx="12.5" ry="9.3" fill="#909090"/>
<ellipse cx="545.8" cy="442.6" rx="13.5" ry="9.3" fill="#969696"/>
<ellipse cx="546.8" cy="497.6" rx="10.4" ry="8.3" fill="#969696"/>
<ellipse cx="509.5" cy="503.9" rx="20.8" ry="20.8" fill="#c5c5c5"/>
<ellipse cx="499.1" cy="510.1" rx="6.2" ry="11.4" fill="#e6e6e6"/>
<ellipse cx="444.1" cy="469.6" rx="9.3" ry="7.3" fill="#dddddd"/>
<ellipse cx="408.8" cy="474.8" rx="8.3" ry="6.2" fill="#eeeeee"/>
<ellipse cx="474.2" cy="493.5" rx="8.3" ry="8.3" fill="#dddddd"/>
<ellipse cx="496" cy="508" rx="4.2" ry="8.3" fill="#e6e6e6"/>
<ellipse cx="431.6" cy="520.5" rx="8.3" ry="10.4" fill="#f6f6f6"/>
<ellipse cx="528.1" cy="192.9" rx="22.8" ry="12.5" fill="#c5c5c5"/>
<ellipse cx="521.9" cy="163.8" rx="12.5" ry="8.3" fill="#c5c5c5"/>
<ellipse cx="298.7" cy="234.4" rx="12.5" ry="12.5" fill="#999999"/></g></g><path d="M221.9 120.2L255.1 120.2L256.2 57.9L292.5 57.9L293.5 68.7L348.6 69.3L348.6 89.1L337.1 89.1L337.1 101.5L356.9 101.5L358.9 104.6L379.7 104.6L379.7 124.4L358.9 124.4L356.9 138.9L348.6 143L348.6 151.3L337.1 157.6L337.1 165.9L327.8 172.1L315.3 180.4L307 182.5L302.9 194.9L296.7 205.3L292.5 217.8L286.3 226.1L278 236.5L273.8 246.8L265.5 257.2L262.4 269.7L263.4 288.4L262.4 309.1L263.4 344L263.4 344L269.7 362.7L271.7 385.5L280.1 406.3L282.1 420.8L302.9 441.6L305 433.3L336.1 435.3L339.2 472.7L334 476.9L346.5 493.5L361 485.2L361 466.5L377.6 463.4L394.2 468.6L402.5 485.2L406.7 493.5L419.1 497.6L419.1 516.3L425.4 530.8L415 543.3L423.3 551.6L444.1 559.9L454.4 537.1L471 532.9L497 530.8L497 526.7L528.1 526.7L532.3 520.5L551 508L565.5 493.5L571.7 481L588.3 485.2L596.6 472.7L609.1 456.1L613.3 437.4L631.9 420.8L640.2 404.2L644.4 398L645.4 360.6L642.3 344L631.9 344L631.9 298.7L630.9 251L638.2 246.8L675.5 246.8L675.5 234.4L700.4 234.4L700.4 263.4L717.1 267.6L721.2 288.4L725.4 294.6L729.5 319.5L739.9 325.7L742 344L743 344L746.1 364.8L754.4 366.8L756.5 385.5L749.2 404.2L752.3 418.7L773.1 420.8L773.1 630.5L494.9 630.5L221.9 630.5Z" fill="#000"/>
<rect x="238.5" y="121.2" width="22.8" height="13.5" fill="#fff"/>
<rect x="321.6" y="107.7" width="4.2" height="4.2" fill="#fff"/>
<rect x="348.6" y="106.7" width="10.4" height="7.7" fill="#fff"/>
<rect x="360" y="123.3" width="21.8" height="13.1" fill="#fff"/>
<rect x="348.6" y="136.8" width="4.2" height="6.2" fill="#fff"/>
<rect x="323.6" y="163.8" width="8.3" height="4.2" fill="#fff"/>
<rect x="303.9" y="181.4" width="7.3" height="6.2" fill="#fff"/>
<rect x="275.9" y="232.3" width="8.3" height="10.4" fill="#fff"/>
<rect x="263.9" y="254.1" width="7.5" height="15.6" fill="#fff"/>
<rect x="262.6" y="298.7" width="2.9" height="31.1" fill="#fff"/>
<rect x="265.5" y="344" width="7.9" height="19.7" fill="#fff"/>
<rect x="340.3" y="460.3" width="18.7" height="29.1" fill="#fff"/>
<rect x="417.1" y="508" width="14.5" height="22.8" fill="#fff"/>
<rect x="412.9" y="539.1" width="10.4" height="6.2" fill="#fff"/>
<rect x="388" y="502.8" width="8.3" height="4.2" fill="#fff"/>
<rect x="456.5" y="556.8" width="12.5" height="5.2" fill="#fff"/>
<rect x="509.5" y="517.3" width="20.8" height="9.3" fill="#fff"/>
<rect x="642.3" y="381.4" width="6.2" height="22.8" fill="#fff"/>
<rect x="656.9" y="414.6" width="8.3" height="9.3" fill="#fff"/>
<rect x="590.4" y="473.7" width="8.3" height="13.5" fill="#fff"/>
<rect x="744" y="364.8" width="8.3" height="8.3" fill="#fff"/>
<rect x="722.2" y="290.4" width="19.7" height="29.1" fill="#fff"/>
<rect x="731.6" y="319.5" width="14.5" height="24.5" fill="#fff"/>
<rect x="677.6" y="280.1" width="8.3" height="8.3" fill="#fff"/>
<path d="M280.1 385.5L294.6 385.5L298.7 393.8L321.6 412.5L332 435.3L305 433.3L302.9 441.6L282.1 420.8Z" fill="#fff"/>
<path d="M607 460.3L610.1 437.4L613.3 437.4L631.9 420.8L633 423.9L615.3 441.6L612.2 460.3Z" fill="#fff"/>
</svg>
<svg class="abs" style="left:997px;top:59px" width="579" height="568" viewBox="997 59 579 568"><defs><filter id="p2j" filterUnits="userSpaceOnUse" x="997" y="59" width="579" height="568" color-interpolation-filters="sRGB">
<feTurbulence type="fractalNoise" baseFrequency="0.05" numOctaves="2" seed="11" result="n"/>
<feColorMatrix in="n" type="matrix" values="1 0 0 0 0  1 0 0 0 0  1 0 0 0 0  0 0 0 0 1" result="ng"/>
<feComposite in="SourceGraphic" in2="ng" operator="arithmetic" k1="0.4" k2="0.8" k3="0" k4="0" result="v"/>
<feComponentTransfer in="v"><feFuncR type="table" tableValues="0.000 0.000 0.000 0.063 0.094 0.000 0.063 0.753 1.000 1.000 1.000 1.000 1.000 1.000 0.851 1.000"/><feFuncG type="table" tableValues="0.000 0.000 0.000 0.439 0.627 0.863 0.910 0.941 1.000 0.863 0.604 0.416 0.000 0.063 0.702 1.000"/><feFuncB type="table" tableValues="0.000 0.627 0.878 0.941 0.941 0.941 0.000 0.000 0.000 0.000 0.000 0.063 0.094 0.816 0.878 1.000"/><feFuncA type="table" tableValues="1 1"/></feComponentTransfer>
</filter><filter id="p2c" x="-20%" y="-20%" width="140%" height="140%" color-interpolation-filters="sRGB"><feGaussianBlur stdDeviation="5"/></filter><filter id="p2f" x="-20%" y="-20%" width="140%" height="140%" color-interpolation-filters="sRGB"><feGaussianBlur stdDeviation="2.2"/></filter></defs><rect x="997" y="59" width="579" height="568" fill="#000"/><g filter="url(#p2j)"><rect x="947" y="9" width="679" height="668" fill="#000"/><g filter="url(#p2c)"><rect x="950" y="0" width="700" height="700" fill="#858585"/>
<path d="M1229.6 71.5C1243.4 53.5 1260.1 54.8 1287.7 67.3C1315.4 79.8 1312.7 83.9 1312.7 108.8C1312.7 133.8 1309.9 137.9 1287.7 142.1C1265.6 146.2 1265.6 144.8 1246.2 121.3C1226.8 97.8 1215.8 89.5 1229.6 71.5Z" fill="#a2a2a2"/>
<path d="M1287.7 113C1298.8 99.2 1307.1 106.1 1329.3 121.3C1351.4 136.5 1354.2 137.9 1354.2 158.7C1354.2 179.5 1348.7 182.2 1329.3 183.6C1309.9 185 1309.9 186.4 1296.1 162.8C1282.2 139.3 1276.7 126.8 1287.7 113Z" fill="#a2a2a2"/>
<path d="M1462.2 104.7C1477.4 77 1487.1 81.2 1507.9 100.5C1528.6 119.9 1521.7 121.3 1524.5 162.8C1527.3 204.4 1531.4 201.6 1516.2 225.1C1501 248.7 1496.8 247.3 1478.8 233.4C1460.8 219.6 1467.7 226.5 1462.2 183.6C1456.7 140.7 1447 132.4 1462.2 104.7Z" fill="#afafaf"/>
<path d="M1480.9 150.4C1489.2 132.4 1500.3 131 1512 146.2C1523.8 161.5 1524.5 178.1 1516.2 196.1C1507.9 214.1 1498.9 215.4 1487.1 200.2C1475.3 185 1472.6 168.4 1480.9 150.4Z" fill="#d4d4d4"/>
<path d="M1354.2 59C1368 46.5 1387.4 47.9 1412.4 59C1437.3 70.1 1442.8 79.8 1429 92.2C1415.1 104.7 1395.7 107.5 1370.8 96.4C1345.9 85.3 1340.4 71.5 1354.2 59Z" fill="#999999"/>
<path d="M1383.3 121.3C1398.5 101.9 1413.7 107.5 1433.1 125.5C1452.5 143.5 1447 150.4 1441.4 175.3C1435.9 200.2 1434.5 197.5 1416.5 200.2C1398.5 203 1398.5 209.9 1387.4 183.6C1376.4 157.3 1368 140.7 1383.3 121.3Z" fill="#666666"/>
<path d="M1389.5 133.8C1394.4 125.5 1399.9 124.8 1406.1 131.7C1412.4 138.6 1413 146.2 1408.2 154.5C1403.4 162.8 1397.8 163.5 1391.6 156.6C1385.4 149.7 1384.7 142.1 1389.5 133.8Z" fill="#3c3c3c"/>
<path d="M1337.6 92.2C1343.1 81.2 1355.6 81.2 1370.8 88.1C1386 95 1388.8 101.9 1383.3 113C1377.7 124.1 1369.4 128.2 1354.2 121.3C1339 114.4 1332.1 103.3 1337.6 92.2Z" fill="#666666"/>
<path d="M1192.2 67.3C1203.3 57.6 1217.1 59 1229.6 71.5C1242.1 83.9 1240.7 95 1229.6 104.7C1218.5 114.4 1208.8 113 1196.4 100.5C1183.9 88.1 1181.1 77 1192.2 67.3Z" fill="#5e5e5e"/>
<path d="M1528.6 179.5C1546.6 158.7 1567.4 139.3 1586.8 171.1C1606.2 203 1599.3 240.4 1586.8 275C1574.3 309.6 1567.4 288.8 1549.4 275C1531.4 261.1 1539.7 265.3 1532.8 233.4C1525.9 201.6 1510.7 200.2 1528.6 179.5Z" fill="#5e5e5e"/>
<path d="M1557.7 299.9C1566 283.3 1577.1 280.5 1586.8 299.9C1596.5 319.3 1595.1 341.4 1586.8 358.1C1578.5 374.7 1571.6 369.1 1561.9 349.7C1552.2 330.4 1549.4 316.5 1557.7 299.9Z" fill="#666666"/>
<path d="M1030.2 50.7C1038.5 34.1 1052.4 32.7 1063.5 50.7C1074.5 68.7 1071.8 88.1 1063.5 104.7C1055.1 121.3 1049.6 118.5 1038.5 100.5C1027.5 82.5 1021.9 67.3 1030.2 50.7Z" fill="#666666"/>
<path d="M1059.3 63.2C1066.2 49.3 1075.9 47.9 1084.2 63.2C1092.5 78.4 1091.1 95 1084.2 108.8C1077.3 122.7 1071.8 119.9 1063.5 104.7C1055.1 89.5 1052.4 77 1059.3 63.2Z" fill="#2a2a2a"/>
<path d="M984.5 67.3C999.8 49.3 1013.6 53.5 1030.2 71.5C1046.8 89.5 1049.6 103.3 1034.4 121.3C1019.2 139.3 1001.2 143.5 984.5 125.5C967.9 107.5 969.3 85.3 984.5 67.3Z" fill="#bbbbbb"/>
<path d="M1487.1 46.5C1477.4 20.2 1487.1 20.2 1520.3 46.5C1553.6 72.8 1564.6 88.1 1586.8 125.5C1609 162.8 1599.3 158.7 1586.8 158.7C1574.3 158.7 1582.6 162.8 1549.4 125.5C1516.2 88.1 1496.8 72.8 1487.1 46.5Z" fill="#dddddd" stroke="#dddddd" stroke-width="4" stroke-linejoin="round"/>
<path d="M1503.7 46.5C1480.2 12.6 1488.5 17.5 1516.2 46.5C1543.9 75.6 1563.3 99.8 1586.8 133.8C1610.3 167.7 1614.5 177.4 1586.8 148.3C1559.1 119.2 1527.3 80.5 1503.7 46.5Z" fill="#ffffff"/>
<path d="M1287.7 162.8C1329.3 164.2 1315.4 158.7 1354.2 171.1C1393 183.6 1376.4 176.7 1404 200.2C1431.7 223.8 1422 205.8 1437.3 241.8C1452.5 277.8 1447 258.4 1449.7 308.2C1452.5 358.1 1455.3 341.4 1445.6 391.3C1435.9 441.1 1440 419 1420.7 457.7C1401.3 496.5 1412.4 477.1 1387.4 507.6C1362.5 538 1379.1 524.2 1345.9 549.1C1312.7 574 1326.5 574 1287.7 582.3C1249 590.6 1268.4 587.9 1229.6 574C1190.8 560.2 1207.4 567.1 1171.4 540.8C1135.5 514.5 1153.4 531.1 1121.6 495.1C1089.8 459.1 1099.5 475.7 1075.9 432.8C1052.4 389.9 1060.7 413.4 1051 366.4C1041.3 319.3 1038.5 334.5 1046.8 291.6C1055.1 248.7 1051 269.4 1075.9 237.6C1100.8 205.8 1089.8 215.4 1121.6 196.1C1153.4 176.7 1135.5 189.1 1171.4 179.5C1207.4 169.8 1190.8 172.5 1229.6 167C1268.4 161.5 1246.2 161.5 1287.7 162.8Z" fill="#b1b1b1"/>
<path d="M1163.1 142.1C1186.7 124.8 1178.4 127.5 1204.7 127.5C1231 127.5 1232.4 126.1 1242.1 142.1C1251.7 158 1250.4 160.1 1233.8 175.3C1217.1 190.5 1214.4 176.7 1192.2 187.8C1170.1 198.8 1179.8 190.5 1167.3 208.5C1154.8 226.5 1165.9 219.6 1154.8 241.8C1143.8 263.9 1145.1 252.8 1134.1 275C1123 297.1 1127.1 284.7 1121.6 308.2C1116.1 331.7 1127.1 333.1 1117.5 345.6C1107.8 358.1 1102.9 358.1 1092.5 345.6C1082.1 333.1 1084.9 337.3 1086.3 308.2C1087.7 279.1 1086.3 288.8 1096.7 258.4C1107.1 227.9 1105 243.1 1117.5 216.8C1129.9 190.5 1118.8 204.4 1134.1 179.5C1149.3 154.5 1139.6 159.4 1163.1 142.1Z" fill="#414141" stroke="#414141" stroke-width="2" stroke-linejoin="round"/>
<path d="M1121.6 196.1C1138.2 179.5 1147.9 171.1 1159 183.6C1170.1 196.1 1164.5 203 1154.8 233.4C1145.1 263.9 1142.4 241.8 1129.9 275C1117.5 308.2 1128.5 313.7 1117.5 333.1C1106.4 352.5 1104.3 347 1096.7 333.1C1089.1 319.3 1090.5 324.8 1094.6 291.6C1098.8 258.4 1100.1 265.3 1109.1 233.4C1118.1 201.6 1105 212.7 1121.6 196.1Z" fill="#333333"/>
<path d="M1080.1 183.6C1105 144.8 1120.2 144.8 1134.1 142.1C1147.9 139.3 1135.5 147.6 1121.6 175.3C1107.8 203 1107.8 191.9 1092.5 225.1C1077.3 258.4 1087 263.9 1075.9 275C1064.8 286.1 1057.9 288.8 1059.3 258.4C1060.7 227.9 1055.1 222.4 1080.1 183.6Z" fill="#777777"/>
<path d="M1441.4 250.1C1460.1 233.4 1459.4 233.4 1487.1 241.8C1514.8 250.1 1505.1 247.3 1524.5 275C1543.9 302.7 1541.1 291.6 1545.3 324.8C1549.4 358.1 1545.3 344.2 1537 374.7C1528.6 405.1 1539.7 396.8 1520.3 416.2C1501 435.6 1503.7 432.8 1478.8 432.8C1453.9 432.8 1459.4 443.9 1445.6 416.2C1431.7 388.5 1442.1 391.3 1437.3 349.7C1432.4 308.2 1429.7 324.8 1431 291.6C1432.4 258.4 1422.7 266.7 1441.4 250.1Z" fill="#2a2a2a" stroke="#2a2a2a" stroke-width="4" stroke-linejoin="round"/>
<path d="M1441.4 349.7C1453.9 334.5 1456.7 340.1 1474.7 345.6C1492.7 351.1 1489.9 344.2 1495.4 366.4C1501 388.5 1505.1 392.7 1491.3 412C1477.4 431.4 1471.9 431.4 1453.9 424.5C1435.9 417.6 1441.4 416.2 1437.3 391.3C1433.1 366.4 1429 365 1441.4 349.7Z" fill="#555555"/>
<path d="M1453.9 275C1466.3 263.9 1469.1 266.7 1487.1 283.3C1505.1 299.9 1510.7 305.4 1507.9 324.8C1505.1 344.2 1498.2 344.2 1478.8 341.4C1459.4 338.7 1458 338.7 1449.7 316.5C1441.4 294.4 1441.4 286.1 1453.9 275Z" fill="#4c4c4c"/>
<path d="M1219.2 272.9C1239.3 257.4 1233.1 258.9 1262.8 257.5C1292.6 256.2 1287.7 256 1308.5 268.8C1329.3 281.5 1311.3 268.1 1325.1 295.8C1339 323.4 1335.5 320 1350 351.8C1364.6 383.7 1365.3 370.1 1368.7 391.3C1372.2 412.5 1379.1 406 1360.4 415.4C1341.7 424.8 1350 416.8 1312.7 419.5C1275.3 422.3 1278.1 414.4 1248.3 423.7C1218.5 433 1238.6 443.6 1223.4 447.4C1208.1 451.1 1214.6 450.1 1202.6 434.9C1190.6 419.7 1191.2 430 1187.2 401.7C1183.2 373.3 1185.4 382.3 1190.6 349.7C1195.7 317.2 1193 329.7 1202.6 304.1C1212.2 278.4 1199.1 288.4 1219.2 272.9Z" fill="#494949"/>
<path d="M1229.6 308.2C1250.4 288.8 1246.2 288.8 1271.1 283.3C1296.1 277.8 1287.7 275 1304.4 291.6C1321 308.2 1305.7 305.4 1321 333.1C1336.2 360.8 1340.4 348.4 1350 374.7C1359.7 401 1384.7 396.8 1350 412C1315.4 427.3 1290.5 419 1246.2 420.4C1201.9 421.7 1231 428.7 1217.1 416.2C1203.3 403.7 1207.4 407.9 1204.7 383C1201.9 358.1 1200.5 366.4 1208.8 341.4C1217.1 316.5 1208.8 327.6 1229.6 308.2Z" fill="#383838"/>
<path d="M1229.6 358.1C1240.7 337.3 1236.5 347 1254.5 329C1272.5 311 1269.7 304.1 1283.6 304.1C1297.4 304.1 1283.6 316.5 1296.1 329C1308.5 341.4 1303 326.2 1321 341.4C1339 356.7 1344.5 352.5 1350 374.7C1355.6 396.8 1372.2 394.1 1337.6 407.9C1303 421.7 1285 421.7 1246.2 416.2C1207.4 410.7 1226.8 410.7 1221.3 391.3C1215.8 371.9 1218.5 378.8 1229.6 358.1Z" fill="#1f1f1f"/>
<path d="M1196.4 183.6C1224.1 169.8 1213 179.5 1254.5 175.3C1296.1 171.1 1285 165.6 1321 171.1C1357 176.7 1345.9 173.9 1362.5 191.9C1379.1 209.9 1381.9 214.1 1370.8 225.1C1359.7 236.2 1357 227.9 1329.3 225.1C1301.6 222.4 1315.4 216.8 1287.7 216.8C1260.1 216.8 1271.1 215.4 1246.2 225.1C1221.3 234.8 1232.4 226.5 1213 245.9C1193.6 265.3 1201.9 254.2 1188.1 283.3C1174.2 312.4 1179.8 297.1 1171.4 333.1C1163.1 369.1 1171.4 358.1 1163.1 391.3C1154.8 424.5 1160.4 421.7 1146.5 432.8C1132.7 443.9 1131.3 443.9 1121.6 424.5C1111.9 405.1 1114.7 413.4 1117.5 374.7C1120.2 335.9 1118.8 348.4 1129.9 308.2C1141 268.1 1136.8 284.7 1150.7 254.2C1164.5 223.8 1156.2 240.4 1171.4 216.8C1186.7 193.3 1168.7 197.5 1196.4 183.6Z" fill="#c5c5c5"/>
<path d="M1055.1 258.4C1062.1 229.3 1067.6 237.6 1075.9 254.2C1084.2 270.8 1071.8 268.1 1080.1 308.2C1088.4 348.4 1082.8 335.9 1100.8 374.7C1118.8 413.4 1110.5 392.7 1134.1 424.5C1157.6 456.4 1145.1 439.7 1171.4 470.2C1197.8 500.7 1188.1 491 1213 515.9C1237.9 540.8 1240.7 531.1 1246.2 545C1251.7 558.8 1249 560.2 1229.6 557.4C1210.2 554.7 1215.8 556 1188.1 536.7C1160.4 517.3 1174.2 527 1146.5 499.3C1118.8 471.6 1129.9 486.8 1105 453.6C1080.1 420.4 1088.4 437 1071.8 399.6C1055.1 362.2 1060.7 388.5 1055.1 341.4C1049.6 294.4 1048.2 287.4 1055.1 258.4Z" fill="#ffffff" stroke="#ffffff" stroke-width="4" stroke-linejoin="round"/>
<path d="M1487.1 266.7C1494 255.6 1501 261.1 1516.2 283.3C1531.4 305.4 1534.2 312.4 1532.8 333.1C1531.4 353.9 1524.5 351.1 1512 345.6C1499.6 340.1 1503.7 342.8 1495.4 316.5C1487.1 290.2 1480.2 277.8 1487.1 266.7Z" fill="#1a1a1a"/>
<path d="M1449.7 283.3C1455.3 272.2 1462.2 277.8 1470.5 291.6C1478.8 305.4 1480.2 313.7 1474.7 324.8C1469.1 335.9 1462.2 338.7 1453.9 324.8C1445.6 311 1444.2 294.4 1449.7 283.3Z" fill="#222222"/>
<path d="M1466.3 304.1C1473.3 290.2 1484.3 301.3 1495.4 316.5C1506.5 331.7 1506.5 335.9 1499.6 349.7C1492.7 363.6 1485.7 373.3 1474.7 358.1C1463.6 342.8 1459.4 317.9 1466.3 304.1Z" fill="#666666"/></g><g filter="url(#p2f)"><ellipse cx="1246.2" cy="210.6" rx="11.6" ry="9.1" fill="#f6f6f6"/>
<ellipse cx="1204.7" cy="254.2" rx="9.1" ry="14.5" fill="#eeeeee"/>
<ellipse cx="1142.4" cy="299.9" rx="11.6" ry="24.9" fill="#f6f6f6"/>
<ellipse cx="1134.1" cy="374.7" rx="11.6" ry="20.8" fill="#eeeeee"/>
<ellipse cx="1171.4" cy="349.7" rx="9.1" ry="16.6" fill="#dddddd"/>
<ellipse cx="1321" cy="183.6" rx="24.9" ry="14.5" fill="#cccccc"/>
<ellipse cx="1395.7" cy="225.1" rx="18.7" ry="14.5" fill="#cccccc"/>
<ellipse cx="1429" cy="237.6" rx="12.5" ry="11.6" fill="#d4d4d4"/>
<ellipse cx="1424.8" cy="345.6" rx="6.6" ry="12.5" fill="#f6f6f6"/>
<ellipse cx="1404" cy="275" rx="5.8" ry="14.5" fill="#e6e6e6"/>
<ellipse cx="1379.1" cy="308.2" rx="20.8" ry="29.1" fill="#909090"/>
<ellipse cx="1395.7" cy="399.6" rx="22.8" ry="33.2" fill="#909090"/>
<ellipse cx="1412.4" cy="308.2" rx="14.5" ry="24.9" fill="#8d8d8d"/>
<ellipse cx="1296.1" cy="457.7" rx="29.1" ry="18.7" fill="#909090"/>
<ellipse cx="1337.6" cy="474.4" rx="22.8" ry="18.7" fill="#909090"/>
<ellipse cx="1287.7" cy="507.6" rx="22.8" ry="18.7" fill="#949494"/>
<ellipse cx="1370.8" cy="474.4" rx="18.7" ry="18.7" fill="#909090"/>
<ellipse cx="1329.3" cy="509.7" rx="16.6" ry="7.5" fill="#e6e6e6"/>
<ellipse cx="1246.2" cy="478.5" rx="12.5" ry="10.4" fill="#d1d1d1"/>
<ellipse cx="1296.1" cy="549.1" rx="20.8" ry="9.1" fill="#cccccc"/>
<ellipse cx="1362.5" cy="432.8" rx="12.5" ry="10.4" fill="#d1d1d1"/>
<ellipse cx="1100.8" cy="258.4" rx="14.5" ry="20.8" fill="#cccccc"/>
<ellipse cx="1071.8" cy="308.2" rx="9.1" ry="24.9" fill="#eeeeee"/>
<ellipse cx="1262.8" cy="92.2" rx="16.6" ry="12.5" fill="#aaaaaa"/>
<ellipse cx="1491.3" cy="167" rx="5" ry="14.5" fill="#e6e6e6"/>
<ellipse cx="1046.8" cy="146.2" rx="24.9" ry="10.4" fill="#f6f6f6"/>
<ellipse cx="1341.7" cy="200.2" rx="24.9" ry="12.5" fill="#f6f6f6"/></g></g><path d="M992.8 127.5L1021.9 130.4L1034.4 144.1L1051 142.1L1065.5 123.4L1080.1 119.2L1082.1 98.5L1105 94.3L1113.3 100.5L1121.6 94.3L1125.8 100.5L1109.1 113L1132 117.1L1142.4 125.5L1134.1 142.1L1121.6 146.2L1113.3 158.7L1094.6 169.1L1088.4 183.6L1084.2 200.2L1075.9 212.7L1059.3 221L1038.5 225.1L1026.1 237.6L1028.2 254.2L1048.9 258.4L1053.1 283.3L1048.9 308.2L1048.9 329L1055.1 374.7L1059.3 395.4L1067.6 420.4L1084.2 443.2L1105 468.1L1125.8 491L1142.4 509.7L1159 530.4L1173.5 551.2L1196.4 557.4L1221.3 567.8L1254.5 578.2L1286.5 578.2L1296.1 569.9L1317.7 561.6L1329.3 540.8L1355 519.6L1373.7 498.9L1402.8 488.5L1411.1 467.7L1419.4 442.8L1436 422L1452.6 430.3L1473.4 426.2L1490 411.6L1494.2 384.6L1504.6 353.5L1514.9 343.1L1535.7 345.6L1537 383L1521.2 395L1535.7 411.6L1556.5 422L1578.5 451.1L1578.5 632.2L992.8 632.2Z" fill="#000"/>
<path d="M1501.7 345.6L1532.8 341.4L1537 387.1L1507.9 383Z" fill="#000"/>
<path d="M1441.4 254.2L1453.9 245.9L1462.2 258.4L1449.7 266.7Z" fill="#000"/>
<rect x="1058.2" y="151.3" width="3.3" height="3.3" fill="#fff"/>
<rect x="1062.9" y="140.5" width="4.2" height="3.3" fill="#ff0018"/>
<rect x="1029.8" y="144.3" width="6.7" height="3.3" fill="#fff"/>
<rect x="1128.2" y="207.1" width="3.3" height="6.7" fill="#10e800"/>
<rect x="1027.1" y="233.6" width="5" height="6.7" fill="#fff"/>
<rect x="1085.9" y="198.9" width="4.2" height="3.3" fill="#10e800"/>
<rect x="1063.7" y="197.5" width="3.3" height="3.3" fill="#ff9a00"/>
<rect x="1098.2" y="183.5" width="5" height="6.7" fill="#ff9a00"/>
<rect x="1062.5" y="162.7" width="4.2" height="4.2" fill="#1070f0"/>
<rect x="1080.8" y="235.5" width="6.7" height="5" fill="#fff"/>
<rect x="1035.2" y="182.4" width="5" height="4.2" fill="#ff0018"/>
<rect x="1026.3" y="211.5" width="5" height="5" fill="#ff9a00"/>
<rect x="1087" y="186.8" width="3.3" height="5" fill="#fff"/>
<rect x="1028.7" y="215.3" width="6.7" height="5" fill="#00dcf0"/>
<rect x="1024.5" y="187.5" width="4.2" height="3.3" fill="#10e800"/>
<rect x="1108.1" y="148.8" width="4.2" height="6.7" fill="#ff9a00"/>
<rect x="1031" y="186" width="5" height="4.2" fill="#ff10d0"/>
<rect x="1053.1" y="182.1" width="5" height="6.7" fill="#ffdc00"/>
<rect x="1031.2" y="151.4" width="4.2" height="3.3" fill="#ffdc00"/>
<rect x="1051.4" y="134.2" width="6.7" height="5" fill="#00dcf0"/>
<rect x="1128.8" y="214.1" width="3.3" height="6.7" fill="#ff10d0"/>
<rect x="1065.9" y="180.2" width="3.3" height="6.7" fill="#fff"/>
<rect x="1043.3" y="248.3" width="6.7" height="4.2" fill="#fff"/>
<rect x="1033.4" y="199.7" width="3.3" height="5" fill="#fff"/>
<rect x="1120" y="205.2" width="4.2" height="5" fill="#00dcf0"/>
<rect x="1075.1" y="147.2" width="6.7" height="6.7" fill="#1070f0"/>
<rect x="1031.6" y="145.6" width="5" height="5" fill="#ffdc00"/>
<rect x="1079.8" y="157.6" width="5" height="4.2" fill="#fff"/>
<rect x="1106.9" y="168.4" width="3.3" height="5" fill="#ffdc00"/>
<rect x="1061.8" y="159.7" width="5" height="4.2" fill="#10e800"/>
<rect x="1112.3" y="228.9" width="4.2" height="4.2" fill="#00dcf0"/>
<rect x="1103.9" y="248.9" width="5" height="6.7" fill="#00dcf0"/>
<rect x="1072.1" y="242.7" width="5" height="5" fill="#fff"/>
<rect x="1047.4" y="156.6" width="4.2" height="6.7" fill="#fff"/>
<rect x="1075.7" y="209.7" width="3.3" height="3.3" fill="#10e800"/>
<rect x="1075.5" y="154.5" width="5" height="3.3" fill="#ff0018"/>
<rect x="1073.9" y="220.2" width="3.3" height="4.2" fill="#ffdc00"/>
<rect x="1025" y="202.5" width="6.7" height="4.2" fill="#ff9a00"/>
<rect x="1095.6" y="174.5" width="4.2" height="3.3" fill="#fff"/>
<rect x="1081" y="242.3" width="6.7" height="4.2" fill="#10e800"/>
<rect x="998.6" y="312.8" width="4.2" height="5" fill="#ff0018"/>
<rect x="1045.5" y="297.7" width="5" height="6.7" fill="#ff10d0"/>
<rect x="1021.5" y="383.1" width="4.2" height="4.2" fill="#fff"/>
<rect x="1047.8" y="369" width="3.3" height="4.2" fill="#ff9a00"/>
<rect x="1033" y="303.6" width="3.3" height="5" fill="#ff10d0"/>
<rect x="1029.3" y="369.8" width="3.3" height="3.3" fill="#1070f0"/>
<rect x="999.5" y="301.3" width="6.7" height="3.3" fill="#fff"/>
<rect x="1022.8" y="352.7" width="4.2" height="5" fill="#ff10d0"/>
<rect x="1043.9" y="342.2" width="4.2" height="5" fill="#10e800"/>
<rect x="1045.8" y="305.3" width="3.3" height="6.7" fill="#fff"/>
<rect x="1036" y="334.3" width="4.2" height="5" fill="#ffdc00"/>
<rect x="1051.6" y="355.7" width="5" height="4.2" fill="#ffdc00"/>
<rect x="1225.3" y="482.4" width="3.3" height="6.7" fill="#ffdc00"/>
<rect x="1228.3" y="551.1" width="4.2" height="6.7" fill="#ff0018"/>
<rect x="1141.8" y="479.7" width="5" height="3.3" fill="#fff"/>
<rect x="1141.6" y="509.2" width="3.3" height="6.7" fill="#1070f0"/>
<rect x="1164.8" y="464.9" width="4.2" height="3.3" fill="#1070f0"/>
<rect x="1101.9" y="545.1" width="5" height="4.2" fill="#1070f0"/>
<rect x="1150.6" y="517.9" width="6.7" height="5" fill="#fff"/>
<rect x="1203" y="478.3" width="3.3" height="5" fill="#fff"/>
<rect x="1203.2" y="467.1" width="4.2" height="3.3" fill="#fff"/>
<rect x="1157" y="495.8" width="6.7" height="5" fill="#fff"/>
<rect x="1166.7" y="484.5" width="3.3" height="4.2" fill="#ffdc00"/>
<rect x="1123.5" y="492.7" width="5" height="4.2" fill="#ff10d0"/>
<rect x="1186" y="488.1" width="3.3" height="5" fill="#fff"/>
<rect x="1194.1" y="519.5" width="4.2" height="6.7" fill="#ff9a00"/>
<rect x="1110.8" y="549.6" width="6.7" height="6.7" fill="#ff0018"/>
<rect x="1225.7" y="492.3" width="4.2" height="4.2" fill="#ffdc00"/>
<rect x="1150.5" y="496.7" width="3.3" height="4.2" fill="#1070f0"/>
<rect x="1153.9" y="464" width="6.7" height="5" fill="#1070f0"/>
<rect x="1102.7" y="478.5" width="5" height="6.7" fill="#00dcf0"/>
<rect x="1224.5" y="566.8" width="5" height="4.2" fill="#1070f0"/>
<rect x="1125.6" y="478.3" width="5" height="6.7" fill="#1070f0"/>
<rect x="1163.5" y="480.3" width="3.3" height="3.3" fill="#fff"/>
<rect x="1115.8" y="523.5" width="6.7" height="3.3" fill="#10e800"/>
<rect x="1107.9" y="565.1" width="4.2" height="6.7" fill="#ff9a00"/>
<rect x="1116.5" y="538.9" width="4.2" height="3.3" fill="#ff10d0"/>
<rect x="1180.1" y="540" width="4.2" height="3.3" fill="#10e800"/>
<rect x="1108" y="462.4" width="5" height="3.3" fill="#ff9a00"/>
<rect x="1170.9" y="528.1" width="4.2" height="6.7" fill="#ff9a00"/>
<rect x="1202.7" y="541.7" width="3.3" height="3.3" fill="#ff9a00"/>
<rect x="1130.2" y="466.1" width="5" height="4.2" fill="#10e800"/>
<rect x="1127.4" y="530.6" width="6.7" height="6.7" fill="#fff"/>
<rect x="1160.4" y="534.4" width="3.3" height="4.2" fill="#ffdc00"/>
<rect x="1140.8" y="530.8" width="5" height="4.2" fill="#fff"/>
<rect x="1161.3" y="566.8" width="3.3" height="4.2" fill="#1070f0"/>
<rect x="1190.9" y="489.8" width="6.7" height="6.7" fill="#ff10d0"/>
<rect x="1123.2" y="567.4" width="6.7" height="3.3" fill="#fff"/>
<rect x="1205.7" y="566.3" width="6.7" height="5" fill="#10e800"/>
<rect x="1106.6" y="467.9" width="5" height="5" fill="#ff10d0"/>
<rect x="1133.8" y="470.4" width="5" height="4.2" fill="#ff9a00"/>
<rect x="1149.1" y="475.6" width="6.7" height="6.7" fill="#ffdc00"/>
<rect x="1152" y="499.9" width="3.3" height="5" fill="#00dcf0"/>
<rect x="1208.2" y="471.2" width="4.2" height="3.3" fill="#1070f0"/>
<rect x="1130.3" y="465" width="6.7" height="3.3" fill="#ff0018"/>
<rect x="1197.1" y="553.5" width="5" height="3.3" fill="#1070f0"/>
<rect x="1181.1" y="474.4" width="5" height="6.7" fill="#10e800"/>
<rect x="1338.8" y="575.2" width="6.7" height="3.3" fill="#ff0018"/>
<rect x="1358.6" y="580.4" width="4.2" height="3.3" fill="#ff0018"/>
<rect x="1293.3" y="574.1" width="5" height="6.7" fill="#ff10d0"/>
<rect x="1247.6" y="564.8" width="5" height="5" fill="#1070f0"/>
<rect x="1287" y="557" width="6.7" height="6.7" fill="#ffdc00"/>
<rect x="1240.2" y="565.7" width="6.7" height="4.2" fill="#00dcf0"/>
<rect x="1370.3" y="564.1" width="4.2" height="4.2" fill="#ffdc00"/>
<rect x="1277.9" y="552.1" width="4.2" height="5" fill="#10e800"/>
<rect x="1354.9" y="574" width="6.7" height="6.7" fill="#ff10d0"/>
<rect x="1259.3" y="558.1" width="3.3" height="6.7" fill="#00dcf0"/>
<rect x="1247.4" y="565.8" width="4.2" height="3.3" fill="#10e800"/>
<rect x="1283.9" y="570.6" width="6.7" height="5" fill="#fff"/>
<rect x="1247.6" y="563.2" width="6.7" height="6.7" fill="#ff0018"/>
<rect x="1361" y="580" width="6.7" height="6.7" fill="#fff"/>
<rect x="1261.2" y="554.2" width="3.3" height="6.7" fill="#fff"/>
<rect x="1229.8" y="553.3" width="3.3" height="5" fill="#1070f0"/>
<rect x="1304.2" y="563.6" width="3.3" height="3.3" fill="#ff10d0"/>
<rect x="1362.8" y="555.5" width="5" height="4.2" fill="#fff"/>
<rect x="1231.1" y="559.1" width="6.7" height="5" fill="#10e800"/>
<rect x="1296.7" y="556.9" width="4.2" height="3.3" fill="#1070f0"/>
<rect x="1237.4" y="555.6" width="6.7" height="3.3" fill="#ff0018"/>
<rect x="1360.2" y="556.7" width="3.3" height="5" fill="#00dcf0"/>
<rect x="1326" y="555.7" width="5" height="3.3" fill="#10e800"/>
<rect x="1273.6" y="576.4" width="4.2" height="6.7" fill="#1070f0"/>
<rect x="1245" y="569.8" width="4.2" height="4.2" fill="#fff"/>
<rect x="1363.6" y="554" width="6.7" height="3.3" fill="#ffdc00"/>
<rect x="1288.3" y="572.7" width="4.2" height="6.7" fill="#00dcf0"/>
<rect x="1333.1" y="582.3" width="4.2" height="5" fill="#ff10d0"/>
<rect x="1335" y="550.2" width="6.7" height="5" fill="#ff9a00"/>
<rect x="1253.5" y="549.2" width="5" height="3.3" fill="#fff"/>
<rect x="1489" y="493.8" width="6.7" height="5" fill="#1070f0"/>
<rect x="1532.3" y="464" width="3.3" height="6.7" fill="#ff10d0"/>
<rect x="1548.5" y="442.1" width="5" height="6.7" fill="#ff0018"/>
<rect x="1436.9" y="481.7" width="6.7" height="3.3" fill="#ff9a00"/>
<rect x="1406.1" y="508.6" width="5" height="4.2" fill="#00dcf0"/>
<rect x="1456" y="455.1" width="3.3" height="5" fill="#00dcf0"/>
<rect x="1549.3" y="451.7" width="3.3" height="3.3" fill="#fff"/>
<rect x="1474.7" y="511.9" width="6.7" height="5" fill="#ff9a00"/>
<rect x="1417.8" y="469.9" width="3.3" height="5" fill="#ffdc00"/>
<rect x="1496.6" y="454.5" width="5" height="6.7" fill="#fff"/>
<rect x="1480.8" y="460.3" width="4.2" height="4.2" fill="#fff"/>
<rect x="1475.8" y="474.3" width="4.2" height="6.7" fill="#fff"/>
<rect x="1439.7" y="432.2" width="3.3" height="6.7" fill="#ff9a00"/>
<rect x="1424.5" y="436.7" width="6.7" height="4.2" fill="#fff"/>
<rect x="1525.3" y="451.4" width="5" height="5" fill="#1070f0"/>
<rect x="1428.8" y="447.1" width="4.2" height="4.2" fill="#10e800"/>
<rect x="1450" y="460.7" width="4.2" height="4.2" fill="#fff"/>
<rect x="1504.3" y="515.1" width="3.3" height="3.3" fill="#10e800"/>
<rect x="1535.4" y="508.1" width="3.3" height="5" fill="#fff"/>
<rect x="1427.2" y="513.4" width="4.2" height="3.3" fill="#ffdc00"/>
<rect x="1470.4" y="448.3" width="3.3" height="3.3" fill="#00dcf0"/>
<rect x="1431.9" y="458.2" width="4.2" height="3.3" fill="#1070f0"/>
<rect x="1402.1" y="491.4" width="4.2" height="3.3" fill="#ff0018"/>
<rect x="1508.4" y="441.4" width="5" height="3.3" fill="#ff9a00"/>
<rect x="1486.8" y="430.3" width="3.3" height="6.7" fill="#ffdc00"/>
<rect x="1501.9" y="432.8" width="4.2" height="6.7" fill="#ff0018"/>
<rect x="1559.9" y="485.5" width="6.7" height="3.3" fill="#00dcf0"/>
<rect x="1464.5" y="426.2" width="5" height="4.2" fill="#ff0018"/>
<rect x="1429.6" y="425" width="4.2" height="6.7" fill="#fff"/>
<rect x="1463.2" y="505.2" width="6.7" height="4.2" fill="#fff"/>
<rect x="1490.4" y="365.7" width="6.7" height="3.3" fill="#000"/>
<rect x="1529.4" y="383.7" width="4.2" height="4.2" fill="#000"/>
<rect x="1449.9" y="278" width="3.3" height="3.3" fill="#000"/>
<rect x="1511.4" y="394" width="4.2" height="5" fill="#000"/>
<rect x="1531" y="428.2" width="6.7" height="5" fill="#000"/>
<rect x="1529.3" y="318.4" width="4.2" height="4.2" fill="#10e800"/>
<rect x="1519.2" y="280.1" width="4.2" height="3.3" fill="#000"/>
<rect x="1486.9" y="317.6" width="3.3" height="4.2" fill="#000"/>
<rect x="1508.4" y="413.6" width="3.3" height="3.3" fill="#00dcf0"/>
<rect x="1445.3" y="358" width="5" height="6.7" fill="#000"/>
<rect x="1459" y="318.7" width="5" height="6.7" fill="#000"/>
<rect x="1451.7" y="246.6" width="6.7" height="6.7" fill="#000"/>
<rect x="1512.4" y="391.7" width="6.7" height="4.2" fill="#ff0018"/>
<rect x="1444.2" y="269.9" width="6.7" height="5" fill="#000"/>
<rect x="1479" y="341.3" width="3.3" height="3.3" fill="#fff"/>
<rect x="1528.9" y="304.5" width="3.3" height="3.3" fill="#ff0018"/>
<rect x="1500.9" y="392.5" width="3.3" height="3.3" fill="#fff"/>
<rect x="1453.2" y="429.4" width="6.7" height="5" fill="#ffdc00"/>
<rect x="1504.4" y="380.7" width="4.2" height="3.3" fill="#1070f0"/>
<rect x="1449.6" y="413.5" width="5" height="6.7" fill="#000"/>
<rect x="1485.3" y="417.8" width="4.2" height="5" fill="#10e800"/>
<rect x="1466.3" y="252.8" width="4.2" height="6.7" fill="#000"/>
<rect x="1530.4" y="372.9" width="6.7" height="4.2" fill="#1070f0"/>
<rect x="1445.1" y="345.1" width="5" height="6.7" fill="#000"/>
<rect x="1493.3" y="410.9" width="3.3" height="5" fill="#ff0018"/>
<rect x="1509.7" y="315.3" width="6.7" height="5" fill="#000"/>
<rect x="1470.5" y="388.8" width="6.7" height="4.2" fill="#000"/>
<rect x="1510.3" y="254.9" width="5" height="5" fill="#00dcf0"/>
<rect x="1509.2" y="385.6" width="4.2" height="4.2" fill="#000"/>
<rect x="1498.1" y="324" width="5" height="3.3" fill="#000"/>
<rect x="1456.7" y="368" width="3.3" height="3.3" fill="#000"/>
<rect x="1470" y="265.8" width="5" height="4.2" fill="#000"/>
<rect x="1464.4" y="270.9" width="5" height="6.7" fill="#000"/>
<rect x="1434.6" y="395.7" width="4.2" height="6.7" fill="#000"/>
<rect x="1499.4" y="408.8" width="5" height="6.7" fill="#fff"/>
<rect x="1438.9" y="399.3" width="5" height="6.7" fill="#ff10d0"/>
<rect x="1509.3" y="292.4" width="3.3" height="3.3" fill="#000"/>
<rect x="1435.7" y="280.6" width="4.2" height="3.3" fill="#fff"/>
<rect x="1434.4" y="348.9" width="4.2" height="4.2" fill="#000"/>
<rect x="1486.9" y="366" width="6.7" height="4.2" fill="#000"/>
<rect x="1061.3" y="432.6" width="6.7" height="3.3" fill="#ff0018"/>
<rect x="1171.7" y="387.8" width="6.7" height="4.2" fill="#fff"/>
<rect x="1093.3" y="437.6" width="3.3" height="5" fill="#1070f0"/>
<rect x="1166.3" y="332.4" width="6.7" height="5" fill="#10e800"/>
<rect x="1064.8" y="399.6" width="4.2" height="5" fill="#10e800"/>
<rect x="1204" y="466" width="5" height="4.2" fill="#00dcf0"/>
<rect x="1148.4" y="364" width="6.7" height="6.7" fill="#fff"/>
<rect x="1189.9" y="380" width="4.2" height="5" fill="#ff0018"/>
<rect x="1151.9" y="280" width="4.2" height="4.2" fill="#fff"/>
<rect x="1068.3" y="516.9" width="5" height="4.2" fill="#fff"/>
<rect x="1057.7" y="451.1" width="3.3" height="3.3" fill="#fff"/>
<rect x="1189.7" y="470.4" width="4.2" height="3.3" fill="#ff0018"/>
<rect x="1068.3" y="315.6" width="3.3" height="3.3" fill="#fff"/>
<rect x="1184.6" y="434.1" width="5" height="6.7" fill="#fff"/>
<rect x="1179.3" y="438.2" width="5" height="5" fill="#1070f0"/>
<rect x="1054.4" y="329.8" width="5" height="3.3" fill="#00dcf0"/>
<rect x="1198.5" y="472.4" width="6.7" height="5" fill="#fff"/>
<rect x="1178.8" y="267.1" width="3.3" height="5" fill="#fff"/>
<rect x="1138.1" y="318.6" width="3.3" height="5" fill="#fff"/>
<rect x="1135.8" y="338.6" width="3.3" height="3.3" fill="#fff"/>
<rect x="1130.6" y="480.1" width="4.2" height="6.7" fill="#ff10d0"/>
<rect x="1093.2" y="521" width="5" height="4.2" fill="#10e800"/>
<rect x="1131.7" y="289" width="3.3" height="6.7" fill="#ff10d0"/>
<rect x="1178.5" y="433.1" width="5" height="3.3" fill="#ff0018"/>
<rect x="1195.5" y="465.8" width="6.7" height="3.3" fill="#1070f0"/>
<rect x="1093.6" y="509.2" width="4.2" height="6.7" fill="#10e800"/>
<rect x="1203.9" y="293.7" width="3.3" height="5" fill="#ff10d0"/>
<rect x="1076.2" y="493" width="5" height="4.2" fill="#1070f0"/>
<rect x="1144.8" y="293.4" width="6.7" height="4.2" fill="#1070f0"/>
<rect x="1099.8" y="454" width="4.2" height="4.2" fill="#00dcf0"/></svg>
<svg class="abs" style="left:224px;top:737px" width="550" height="533" viewBox="224 737 550 533"><defs><filter id="p3j" filterUnits="userSpaceOnUse" x="224" y="737" width="550" height="533" color-interpolation-filters="sRGB">
<feTurbulence type="fractalNoise" baseFrequency="0.045" numOctaves="2" seed="5" result="n"/>
<feColorMatrix in="n" type="matrix" values="1 0 0 0 0  1 0 0 0 0  1 0 0 0 0  0 0 0 0 1" result="ng"/>
<feComposite in="SourceGraphic" in2="ng" operator="arithmetic" k1="0.32" k2="0.84" k3="0" k4="0" result="v"/>
<feComponentTransfer in="v"><feFuncR type="table" tableValues="0.000 0.000 0.000 0.063 0.094 0.000 0.063 0.753 1.000 1.000 1.000 1.000 1.000 1.000 0.851 1.000"/><feFuncG type="table" tableValues="0.000 0.000 0.000 0.439 0.627 0.863 0.910 0.941 1.000 0.863 0.604 0.416 0.000 0.063 0.702 1.000"/><feFuncB type="table" tableValues="0.000 0.627 0.878 0.941 0.941 0.941 0.000 0.000 0.000 0.000 0.000 0.063 0.094 0.816 0.878 1.000"/><feFuncA type="table" tableValues="1 1"/></feComponentTransfer>
</filter><filter id="p3c" x="-20%" y="-20%" width="140%" height="140%" color-interpolation-filters="sRGB"><feGaussianBlur stdDeviation="5"/></filter><filter id="p3f" x="-20%" y="-20%" width="140%" height="140%" color-interpolation-filters="sRGB"><feGaussianBlur stdDeviation="2.2"/></filter></defs><rect x="224" y="737" width="550" height="533" fill="#000"/><g filter="url(#p3j)"><rect x="174" y="687" width="650" height="633" fill="#000"/><g filter="url(#p3c)"><rect x="150" y="680" width="700" height="650" fill="#bbbbbb"/>
<path d="M442.2 1290.2C343.5 1273.3 462.9 1272 496.7 1239.5C530.5 1207.1 512.3 1220.1 543.4 1192.8C574.6 1165.5 565.5 1174.6 590.2 1157.7C614.9 1140.8 596.7 1151.2 617.5 1142.1C638.2 1133.1 627.8 1136.9 652.5 1130.5C677.2 1124 665.5 1122.7 691.5 1122.7C717.4 1122.7 696.7 1135.6 730.4 1130.5C764.2 1125.3 772 1053.8 792.8 1107.1C813.5 1160.3 909.6 1229.1 792.8 1290.2C675.9 1351.2 540.8 1307.1 442.2 1290.2Z" fill="#8b8b8b"/>
<path d="M317.5 729.6C361.8 717.3 417.6 720.6 460.2 729.6C502.9 738.6 461.9 744.4 445.5 756.7C429.1 769 435.6 760.8 411 766.5C386.4 772.3 399.5 773.9 371.6 773.9C343.8 773.9 345.4 781.3 327.3 766.5C309.3 751.8 273.2 741.9 317.5 729.6Z" fill="#afafaf"/>
<path d="M440.5 746.8C448.7 741.1 443.8 747.7 470.1 751.8C496.3 755.9 478.3 757.5 519.3 759.1C560.3 760.8 543.9 758.3 593.1 756.7C642.3 755 625.9 751.8 666.9 754.2C707.9 756.7 678.4 753.4 716.1 764.1C753.9 774.7 758.8 773.9 780.1 786.2C801.4 798.5 801.4 801 780.1 801C758.8 801 753.9 794.4 716.1 786.2C678.4 778 707.9 781.3 666.9 776.4C625.9 771.4 634.1 770.6 593.1 771.4C552.1 772.3 576.7 769.8 543.9 778.8C511.1 787.9 522.6 793.6 494.7 798.5C466.8 803.4 476.6 803.4 460.2 793.6C443.8 783.8 452 784.6 445.5 769C438.9 753.4 432.3 752.6 440.5 746.8Z" fill="#cfcfcf"/>
<path d="M470.1 729.6C538.1 724.7 605.4 724.7 679.2 729.6C753 734.5 703.8 738.2 691.5 744.4C679.2 750.5 683.3 747.3 642.3 748.1C601.3 748.9 613.6 746.4 568.5 746.8C523.4 747.3 538.1 750.1 507 749.3C475.8 748.5 487.3 750.9 475 744.4C462.7 737.8 402 734.5 470.1 729.6Z" fill="#ffffff" stroke="#ffffff" stroke-width="2" stroke-linejoin="round"/>
<path d="M691.5 729.6C716.9 720.6 750.6 714.9 780.1 729.6C809.6 744.4 793.2 760 780.1 773.9C767 787.9 766.2 777.2 740.7 771.4C715.3 765.7 720.2 770.6 703.8 756.7C687.4 742.7 666.1 738.6 691.5 729.6Z" fill="#ffffff" stroke="#ffffff" stroke-width="2" stroke-linejoin="round"/>
<path d="M548.8 773.9C569.3 764.1 591.5 765.7 617.7 776.4C643.9 787 635.7 793.6 627.5 805.9C619.3 818.2 616.9 813.3 593.1 813.3C569.3 813.3 570.9 819 556.2 805.9C541.4 792.8 528.3 783.8 548.8 773.9Z" fill="#969696"/>
<path d="M588.2 810.8C593.5 805.1 593.9 804.3 604.2 808.4C614.4 812.5 619.3 812.9 618.9 823.1C618.5 833.4 613.2 838.3 602.9 839.1C592.7 839.9 593.1 835 588.2 825.6C583.3 816.2 582.8 816.6 588.2 810.8Z" fill="#5a5a5a"/>
<path d="M644.8 761.6C651.3 756.7 657.9 756.7 664.5 761.6C671 766.5 671 771.4 664.5 776.4C657.9 781.3 651.3 781.3 644.8 776.4C638.2 771.4 638.2 766.5 644.8 761.6Z" fill="#5e5e5e"/>
<path d="M406.1 764.1C412.6 758.3 407.7 755.9 420.9 761.6C434 767.3 428.2 767.3 445.5 781.3C462.7 795.2 467.6 794.4 472.5 803.4C477.4 812.5 473.3 810.8 460.2 808.4C447.1 805.9 452.8 805.9 433.2 796.1C413.5 786.2 410.2 789.5 401.2 778.8C392.1 768.2 399.5 769.8 406.1 764.1Z" fill="#ffffff" stroke="#ffffff" stroke-width="2" stroke-linejoin="round"/>
<path d="M345.8 802.2C357.3 794.4 358.1 799.3 381.5 799.7C404.9 800.2 405.3 795.6 415.9 803.4C426.6 811.2 425 814.8 413.5 823.1C402 831.5 403.6 828.5 381.5 828.5C359.3 828.5 358.9 831.9 347 823.1C335.1 814.3 334.3 810 345.8 802.2Z" fill="#ffffff" stroke="#ffffff" stroke-width="4" stroke-linejoin="round"/>
<path d="M216.6 739.5C227.3 725.1 236.7 734.9 248.6 740.7C260.5 746.4 253.9 745.6 252.3 756.7C250.7 767.8 255.6 764.9 243.7 773.9C231.8 782.9 225.6 795.2 216.6 783.8C207.6 772.3 206 753.8 216.6 739.5Z" fill="#ffffff" stroke="#ffffff" stroke-width="2" stroke-linejoin="round"/>
<path d="M248.6 737C265 715.7 248.6 732.1 273.2 729.6C297.8 727.2 307.7 722.2 322.4 729.6C337.2 737 329.8 738.6 317.5 751.8C305.2 764.9 305.2 757.5 285.5 769C265.8 780.5 275.7 775.5 258.4 786.2C241.2 796.9 245.3 798.5 233.8 801C222.4 803.4 219.1 814.9 224 793.6C228.9 772.3 232.2 758.3 248.6 737Z" fill="#808080"/>
<path d="M267.1 787.4C273.6 779.2 283.1 779.2 292.9 786.2C302.7 793.2 303.2 800.2 296.6 808.4C290 816.6 283.1 817.8 273.2 810.8C263.4 803.8 260.5 795.6 267.1 787.4Z" fill="#eeeeee"/>
<path d="M637.4 781.3C644.8 775.5 665.3 776 679.2 782.5C693.2 789.1 686.6 795.2 679.2 801C671.8 806.7 671 806.3 657.1 799.7C643.1 793.2 630 787 637.4 781.3Z" fill="#ffffff" stroke="#ffffff" stroke-width="2" stroke-linejoin="round"/>
<path d="M679.2 807.1C710.4 802.2 746.5 799.7 780.1 803.4C813.7 807.1 811.3 813.3 780.1 818.2C748.9 823.1 720.2 821.9 686.6 818.2C653 814.5 648 812 679.2 807.1Z" fill="#f6f6f6"/>
<path d="M642.3 813.3C680 805.1 734.2 807.5 780.1 818.2C826 828.9 817.8 837.1 780.1 845.3C742.4 853.5 712.8 853.5 666.9 842.8C621 832.1 604.6 821.5 642.3 813.3Z" fill="#bbbbbb"/>
<path d="M691.5 823.1C698.1 819 704.6 819 711.2 823.1C717.8 827.2 717.8 831.3 711.2 835.4C704.6 839.5 698.1 839.5 691.5 835.4C685 831.3 685 827.2 691.5 823.1Z" fill="#e6e6e6"/>
<path d="M593.1 855.1C602.9 855.1 601.3 861.7 622.6 874.8C643.9 887.9 625.9 887.1 657.1 894.5C688.2 901.9 675.1 898.6 716.1 896.9C757.1 895.3 758.8 880.5 780.1 889.6C801.4 898.6 809.6 913.3 780.1 924C750.6 934.7 734.2 923.2 691.5 921.5C648.9 919.9 675.1 926.5 652.1 919.1C629.2 911.7 642.3 914.2 622.6 899.4C602.9 884.6 602.9 889.6 593.1 874.8C583.3 860 583.3 855.1 593.1 855.1Z" fill="#fcfcfc" stroke="#fcfcfc" stroke-width="2" stroke-linejoin="round"/>
<path d="M445.5 835.4C463.5 828 461.9 828.9 494.7 830.5C527.5 832.1 511.1 832.1 543.9 840.3C576.7 848.5 571.8 840.3 593.1 855.1C614.4 869.9 611.1 878.1 607.9 884.6C604.6 891.2 608.7 884.6 583.3 874.8C557.8 865 569.3 862.5 531.6 855.1C493.8 847.7 500.4 853.5 470.1 852.6C439.7 851.8 448.7 858.4 440.5 852.6C432.3 846.9 427.4 842.8 445.5 835.4Z" fill="#909090"/>
<path d="M376.6 845.3C391.3 834.6 397.9 840.3 420.9 842.8C443.8 845.3 448.7 843.6 445.5 852.6C442.2 861.7 427.4 859.2 411 869.9C394.6 880.5 407.7 883 396.2 884.6C384.8 886.3 383.1 887.9 376.6 874.8C370 861.7 361.8 855.9 376.6 845.3Z" fill="#c4c4c4"/>
<path d="M273.2 847.7C285.5 837.9 287.2 842.8 305.2 845.3C323.2 847.7 327.3 845.3 327.3 855.1C327.3 865 315 858.4 305.2 874.8C295.4 891.2 308.5 892.8 297.8 904.3C287.2 915.8 283.1 919.1 273.2 909.2C263.4 899.4 268.3 895.3 268.3 874.8C268.3 854.3 260.9 857.6 273.2 847.7Z" fill="#5e5e5e"/>
<path d="M283.1 776.4C285.5 767.3 289.6 772.3 305.2 771.4C320.8 770.6 314.6 767.3 329.8 773.9C345 780.5 345 780.5 350.7 791.1C356.5 801.8 356.5 800.6 347 805.9C337.6 811.2 338.8 809.6 322.4 807.1C306 804.7 310.9 808.8 297.8 798.5C284.7 788.3 280.6 785.4 283.1 776.4Z" fill="#000000" stroke="#000000" stroke-width="6" stroke-linejoin="round"/>
<path d="M363 786.2C367.9 780.1 377 781.3 396.2 782.5C415.5 783.8 407.7 784.6 420.9 789.9C434 795.2 424.5 789.1 435.6 798.5C446.7 807.9 452.4 811.6 454.1 818.2C455.7 824.8 451.6 823.5 440.5 818.2C429.5 812.9 440.5 807.9 420.9 802.2C401.2 796.5 400.8 806.3 381.5 801C362.2 795.6 358.1 792.4 363 786.2Z" fill="#000000" stroke="#000000" stroke-width="4" stroke-linejoin="round"/>
<path d="M472.5 814.5C478.3 806.3 484 809.6 507 810.8C529.9 812 528.3 811.6 541.4 818.2C554.5 824.8 553.7 823.9 546.3 830.5C539 837.1 538.1 836.2 519.3 837.9C500.4 839.5 505.3 843.2 489.7 835.4C474.2 827.6 466.8 822.7 472.5 814.5Z" fill="#000000" stroke="#000000" stroke-width="6" stroke-linejoin="round"/>
<path d="M353.2 835.4C361.4 829.7 362.2 833.4 381.5 831.7C400.8 830.1 402 827.6 411 830.5C420 833.4 418.4 835.4 408.5 840.3C398.7 845.3 398.7 842.4 381.5 845.3C364.3 848.1 366.3 852.2 356.9 849C347.4 845.7 345 841.2 353.2 835.4Z" fill="#111111" stroke="#111111" stroke-width="2" stroke-linejoin="round"/>
<path d="M676.8 776.4C685 766.5 681.7 772.3 716.1 773.9C750.6 775.5 758.8 773.1 780.1 781.3C801.4 789.5 793.2 790.3 780.1 798.5C767 806.7 770.3 804.3 740.7 805.9C711.2 807.5 712.8 813.3 691.5 803.4C670.2 793.6 668.6 786.2 676.8 776.4Z" fill="#000000" stroke="#000000" stroke-width="6" stroke-linejoin="round"/>
<path d="M607.9 855.1C607.9 844 606.2 851.4 642.3 849C678.4 846.5 670.2 846.5 716.1 847.7C762.1 849 758.8 840.3 780.1 852.6C801.4 865 793.2 871.5 780.1 884.6C767 897.8 774.4 888.7 740.7 892C707.1 895.3 712 897.8 679.2 894.5C646.4 891.2 666.1 895.3 642.3 882.2C618.5 869.1 607.9 866.2 607.9 855.1Z" fill="#000000" stroke="#000000" stroke-width="6" stroke-linejoin="round"/>
<path d="M559 863.6C573.3 857.1 572 856.5 598 867.5C623.9 878.5 616.8 875.9 636.9 896.7C657.1 917.5 652.5 909.7 658.4 929.8C664.2 950 663.6 948 654.5 957.1C645.4 966.2 644.7 967.5 631.1 957.1C617.5 946.7 628.5 944.1 613.6 925.9C598.6 907.8 605.8 915.5 586.3 902.6C566.8 889.6 564.2 900 555.1 887C546 874 544.7 870.1 559 863.6Z" fill="#8d8d8d"/>
<path d="M659.1 986.3C666.9 974.6 672.9 972 683.7 982.4C694.5 992.8 690.2 995.4 691.5 1017.5C692.8 1039.6 695.4 1038.3 687.6 1048.6C679.8 1059 677.2 1059 668.1 1048.6C659 1038.3 663.3 1038.3 660.3 1017.5C657.3 996.7 651.3 998 659.1 986.3Z" fill="#909090"/>
<path d="M675.9 1023.3C680.4 1014.9 685 1013.6 689.5 1021.4C694.1 1029.2 694.1 1038.3 689.5 1046.7C685 1055.1 680.4 1054.5 675.9 1046.7C671.3 1038.9 671.3 1031.8 675.9 1023.3Z" fill="#696969"/>
<path d="M633 978.5C636.9 972 640.8 973.3 644.7 982.4C648.6 991.5 648.6 999.3 644.7 1005.8C640.8 1012.3 636.9 1011 633 1001.9C629.1 992.8 629.1 985 633 978.5Z" fill="#cccccc"/>
<path d="M625.2 1013.6C631.7 1005.1 637.6 1005.1 642.8 1015.5C648 1025.9 647.3 1036.3 640.8 1044.8C634.3 1053.2 628.5 1051.2 623.3 1040.9C618.1 1030.5 618.8 1022 625.2 1013.6Z" fill="#cccccc"/>
<path d="M391.5 853.9C411 843.5 409.7 844.8 457.7 842.2C505.8 839.6 488.9 838.3 535.6 846.1C582.4 853.9 566.8 847.4 598 865.6C629.1 883.7 626.5 891.5 629.1 900.6C631.7 909.7 636.9 904.5 605.8 892.8C574.6 881.1 585 875.9 535.6 865.6C486.3 855.2 503.2 859.1 457.7 861.7C412.3 864.3 421.4 875.9 399.3 873.3C377.2 870.7 372 864.3 391.5 853.9Z" fill="#909090"/>
<path d="M274.6 865.6C295.4 842.2 295.4 850 325.3 846.1C355.2 842.2 355.2 843.5 364.2 853.9C373.3 864.3 369.4 866.9 352.6 877.2C335.7 887.6 334.4 873.3 313.6 885C292.8 896.7 303.2 894.1 290.2 912.3C277.2 930.5 283.7 938.3 274.6 939.6C265.6 940.9 263 940.9 263 916.2C263 891.5 253.9 888.9 274.6 865.6Z" fill="#808080"/>
<path d="M344.8 970.7C357.7 957.8 359 957.8 379.8 970.7C400.6 983.7 388.9 983.7 407.1 1009.7C425.3 1035.7 412.3 1026.6 434.4 1048.6C456.4 1070.7 444.8 1065.5 473.3 1075.9C501.9 1086.3 499.3 1068.1 520.1 1079.8C540.8 1091.5 543.4 1092.8 535.6 1111C527.9 1129.2 522.7 1125.3 496.7 1134.4C470.7 1143.4 481.1 1142.1 457.7 1138.2C434.4 1134.4 448.6 1139.5 426.6 1122.7C404.5 1105.8 414.9 1112.3 391.5 1087.6C368.1 1062.9 373.3 1074.6 356.5 1048.6C339.6 1022.7 344.8 1035.7 340.9 1009.7C337 983.7 331.8 983.7 344.8 970.7Z" fill="#c7c7c7"/>
<path d="M348.7 982.4C360.3 972.7 362.3 968.8 379.8 980.5C397.4 992.2 393.5 992.2 401.2 1017.5C409 1042.8 410.3 1040.9 403.2 1056.4C396.1 1072 395.4 1069.4 379.8 1064.2C364.2 1059 368.1 1059 356.5 1040.9C344.8 1022.7 347.4 1029.2 344.8 1009.7C342.2 990.2 337 992.2 348.7 982.4Z" fill="#d8d8d8"/>
<path d="M395.4 1060.3C404.5 1046.7 407.1 1049.3 426.6 1054.5C446 1059.7 444.8 1059.7 453.8 1075.9C462.9 1092.1 462.9 1090.9 453.8 1103.2C444.8 1115.5 444.8 1115.5 426.6 1112.9C408.4 1110.3 409.7 1112.9 399.3 1095.4C388.9 1077.9 386.3 1074 395.4 1060.3Z" fill="#d8d8d8"/>
<path d="M481.1 1079.8C490.2 1064.2 500.6 1069.4 520.1 1075.9C539.5 1082.4 536.9 1082.4 539.5 1099.3C542.1 1116.2 543.4 1118.8 527.9 1126.6C512.3 1134.4 508.4 1138.2 492.8 1122.7C477.2 1107.1 472 1095.4 481.1 1079.8Z" fill="#cccccc"/>
<path d="M582.4 1068.1C590.2 1059 598 1062.3 621.4 1062.3C644.7 1062.3 644.7 1059.7 652.5 1068.1C660.3 1076.6 662.9 1080.5 644.7 1087.6C626.5 1094.7 618.8 1096 598 1089.6C577.2 1083.1 574.6 1077.2 582.4 1068.1Z" fill="#cccccc"/>
<path d="M273.9 955.2C278.4 937 282.2 944.8 288.3 955.2C294.4 965.5 292.2 968.1 292.2 986.3C292.2 1004.5 294.1 1001.9 288.3 1009.7C282.4 1017.5 279.4 1027.9 274.6 1009.7C269.8 991.5 269.3 973.3 273.9 955.2Z" fill="#dddddd"/>
<path d="M746 1033.1C761.6 1004.5 777.2 999.3 792.8 1025.3C808.3 1051.2 808.3 1082.4 792.8 1111C777.2 1139.5 761.6 1136.9 746 1111C730.4 1085 730.4 1061.6 746 1033.1Z" fill="#aaaaaa"/>
<path d="M311.8 1065.2C315.7 1054.1 318.3 1058.7 341.1 1061.3C363.9 1063.9 360.6 1061.9 380.1 1073C399.6 1084 393.1 1077.5 399.6 1094.4C406.1 1111.3 412.7 1116.6 399.6 1123.7C386.6 1130.9 384 1125.7 360.6 1115.9C337.2 1106.1 345.6 1111.3 329.4 1094.4C313.1 1077.5 307.9 1076.2 311.8 1065.2Z" fill="#8b8b8b"/>
<path d="M268.9 889.5C279.9 868.7 289.1 879.1 302.1 885.6C315.1 892.1 309.2 888.2 307.9 909C306.6 929.8 306.6 928.5 298.2 948.1C289.7 967.6 292.3 967.6 282.5 967.6C272.8 967.6 273.4 974.1 268.9 948.1C264.3 922 257.8 910.3 268.9 889.5Z" fill="#808080"/>
<path d="M447.5 1276.7C447.5 1266.8 455.3 1266.8 471 1250.1C486.6 1233.4 476.2 1243.3 494.5 1226.6C512.7 1209.9 504.9 1216.7 525.8 1200C546.7 1183.3 538.8 1188.5 557.1 1176.5C575.4 1164.5 567.5 1167.1 580.6 1164C593.6 1160.8 601.5 1157.7 596.3 1167.1C591 1176.5 585.8 1174.9 564.9 1192.1C544.1 1209.4 553.4 1201 533.6 1218.8C513.8 1236.5 522.1 1229.2 505.4 1245.4C488.7 1261.6 495 1255.8 483.5 1267.3C472 1278.8 483 1276.7 471 1279.8C459 1283 447.5 1286.6 447.5 1276.7Z" fill="#4c4c4c"/>
<path d="M483.5 1236C487.7 1230.8 492.4 1230.2 497.6 1234.4C502.8 1238.6 503.3 1243.3 499.2 1248.5C495 1253.7 490.3 1254.3 485.1 1250.1C479.9 1245.9 479.3 1241.2 483.5 1236Z" fill="#222222"/>
<path d="M643.2 1120.1C652.6 1112.8 657.8 1112.8 674.5 1117C691.3 1121.2 688.1 1122.2 693.3 1132.6C698.6 1143.1 698.6 1142 690.2 1148.3C681.9 1154.6 682.9 1154.6 668.3 1151.4C653.7 1148.3 654.7 1149.3 646.4 1138.9C638 1128.5 633.8 1127.4 643.2 1120.1Z" fill="#4c4c4c"/>
<path d="M668.3 1135.8C678.7 1124.8 692.8 1124.3 705.9 1132.6C718.9 1141 717.9 1149.9 707.4 1160.8C697 1171.8 687.6 1173.9 674.5 1165.5C661.5 1157.2 657.8 1146.7 668.3 1135.8Z" fill="#4c4c4c"/>
<path d="M702.7 1167.9C711.1 1160.6 720 1160.6 729.4 1167.1C738.8 1173.6 739.3 1180.1 730.9 1187.4C722.6 1194.8 713.7 1195.5 704.3 1189C694.9 1182.5 694.4 1175.2 702.7 1167.9Z" fill="#474747"/>
<path d="M705.9 1115.4C713.2 1107.1 721 1106 729.4 1113.8C737.7 1121.7 738.2 1130.5 730.9 1138.9C723.6 1147.3 715.8 1146.7 707.4 1138.9C699.1 1131.1 698.6 1123.8 705.9 1115.4Z" fill="#444444"/>
<path d="M760.7 1106C765.9 1093.5 772.2 1093 777.9 1106C783.6 1119.1 783.1 1132.6 777.9 1145.2C772.7 1157.7 768 1156.6 762.2 1143.6C756.5 1130.5 755.5 1118.5 760.7 1106Z" fill="#2a2a2a"/>
<ellipse cx="630.7" cy="1197.6" rx="10.2" ry="11.2" fill="#666666"/>
<ellipse cx="680" cy="1191.4" rx="9.2" ry="7.1" fill="#666666"/>
<ellipse cx="652.6" cy="1200" rx="4.5" ry="4.5" fill="#666666"/>
<ellipse cx="719.2" cy="1221.9" rx="7.1" ry="6.1" fill="#666666"/>
<ellipse cx="604.1" cy="1248.5" rx="10.2" ry="8.1" fill="#636363"/>
<ellipse cx="710.6" cy="1198.4" rx="6.1" ry="10.2" fill="#666666"/>
<path d="M549.3 1210.9C556.6 1202.1 564.4 1201.5 572.8 1209.4C581.1 1217.2 581.6 1225.5 574.3 1234.4C567 1243.3 559.2 1243.8 550.8 1236C542.5 1228.2 542 1219.8 549.3 1210.9Z" fill="#9e9e9e"/>
<path d="M729.4 1132.6C735.6 1125.9 742.4 1124.8 749.7 1131.1C757 1137.3 757.5 1144.6 751.3 1151.4C745 1158.2 738.2 1157.7 730.9 1151.4C723.6 1145.2 723.1 1139.4 729.4 1132.6Z" fill="#adadad"/>
<path d="M745 1189C756.5 1180.7 766.9 1168.1 777.9 1185.9C788.9 1203.6 786.3 1223.5 777.9 1242.3C769.5 1261 764.3 1252.7 752.8 1242.3C741.4 1231.8 746.1 1228.7 743.4 1210.9C740.8 1193.2 733.5 1197.4 745 1189Z" fill="#aaaaaa"/>
<path d="M643.2 1245.4C656.3 1235.5 668.8 1234.4 682.4 1243.8C695.9 1253.2 697 1263.7 683.9 1273.6C670.9 1283.5 656.8 1283 643.2 1273.6C629.7 1264.2 630.2 1255.3 643.2 1245.4Z" fill="#aaaaaa"/>
<path d="M757.5 1250.1C763.8 1241.2 771.1 1239.1 777.9 1246.9C784.7 1254.8 784.2 1264.7 777.9 1273.6C771.6 1282.4 765.9 1281.4 759.1 1273.6C752.3 1265.7 751.3 1259 757.5 1250.1Z" fill="#d4d4d4"/>
<path d="M481.9 1082.5C492.4 1074.2 494.5 1074.2 511.7 1076.3C528.9 1078.4 526.8 1075.2 533.6 1088.8C540.4 1102.4 539.4 1102.4 532 1117C524.7 1131.6 525.8 1131.1 511.7 1132.6C497.6 1134.2 500.2 1132.1 489.8 1121.7C479.3 1111.2 483 1114.4 480.4 1101.3C477.8 1088.3 471.5 1090.9 481.9 1082.5Z" fill="#cccccc"/>
<path d="M580.6 1066.9C596.3 1060.6 611.9 1058.5 627.6 1066.9C643.2 1075.2 638 1082.5 627.6 1091.9C617.1 1101.3 611.9 1097.1 596.3 1095.1C580.6 1093 585.8 1095.1 580.6 1085.7C575.4 1076.3 564.9 1073.1 580.6 1066.9Z" fill="#cccccc"/></g><g filter="url(#p3f)"><path d="M315.5 908.4C325.7 889.2 326.2 896.2 340.9 897.5C355.5 898.8 354.4 895.7 359.6 912.3C364.8 928.9 362 922.7 356.5 947.4C350.9 972 351.3 962.9 342.8 986.3C334.4 1009.7 336.7 998 331.1 1017.5C325.5 1037 330 1047.3 326.1 1044.8C322.2 1042.2 324.6 1039.6 319.4 1009.7C314.2 979.8 311.8 988.9 310.5 955.2C309.2 921.4 305.4 927.6 315.5 908.4Z" fill="#909090" stroke="#909090" stroke-width="18" stroke-linejoin="round"/>
<path d="M315.5 908.4C325.7 889.2 326.2 896.2 340.9 897.5C355.5 898.8 354.4 895.7 359.6 912.3C364.8 928.9 362 922.7 356.5 947.4C350.9 972 351.3 962.9 342.8 986.3C334.4 1009.7 336.7 998 331.1 1017.5C325.5 1037 330 1047.3 326.1 1044.8C322.2 1042.2 324.6 1039.6 319.4 1009.7C314.2 979.8 311.8 988.9 310.5 955.2C309.2 921.4 305.4 927.6 315.5 908.4Z" fill="#5e5e5e" stroke="#5e5e5e" stroke-width="12" stroke-linejoin="round"/>
<path d="M315.5 908.4C325.7 889.2 326.2 896.2 340.9 897.5C355.5 898.8 354.4 895.7 359.6 912.3C364.8 928.9 362 922.7 356.5 947.4C350.9 972 351.3 962.9 342.8 986.3C334.4 1009.7 336.7 998 331.1 1017.5C325.5 1037 330 1047.3 326.1 1044.8C322.2 1042.2 324.6 1039.6 319.4 1009.7C314.2 979.8 311.8 988.9 310.5 955.2C309.2 921.4 305.4 927.6 315.5 908.4Z" fill="#2a2a2a" stroke="#2a2a2a" stroke-width="6" stroke-linejoin="round"/>
<path d="M315.5 908.4C325.7 889.2 326.2 896.2 340.9 897.5C355.5 898.8 354.4 895.7 359.6 912.3C364.8 928.9 362 922.7 356.5 947.4C350.9 972 351.3 962.9 342.8 986.3C334.4 1009.7 336.7 998 331.1 1017.5C325.5 1037 330 1047.3 326.1 1044.8C322.2 1042.2 324.6 1039.6 319.4 1009.7C314.2 979.8 311.8 988.9 310.5 955.2C309.2 921.4 305.4 927.6 315.5 908.4Z" fill="#000000"/>
<path d="M407.1 873.3C428.5 850.6 420.1 865.6 457.7 863.6C495.4 861.7 481.1 859.1 520.1 867.5C559 875.9 542.1 867.5 574.6 888.9C607.1 910.4 598.6 899.3 617.5 931.8C636.3 964.2 629.8 955.2 631.1 986.3C632.4 1017.5 633.7 1001.9 621.4 1025.3C609 1048.6 614.9 1042.2 594.1 1056.4C573.3 1070.7 586.3 1063.6 559 1068.1C531.8 1072.7 540.8 1072.7 512.3 1070.1C483.7 1067.5 499.3 1072.7 473.3 1060.3C447.3 1048 456.4 1057.7 434.4 1033.1C412.3 1008.4 420.7 1020.1 407.1 986.3C393.5 952.6 393.5 969.4 393.5 931.8C393.5 894.1 385.7 896.1 407.1 873.3Z" fill="#909090" stroke="#909090" stroke-width="18" stroke-linejoin="round"/>
<path d="M407.1 873.3C428.5 850.6 420.1 865.6 457.7 863.6C495.4 861.7 481.1 859.1 520.1 867.5C559 875.9 542.1 867.5 574.6 888.9C607.1 910.4 598.6 899.3 617.5 931.8C636.3 964.2 629.8 955.2 631.1 986.3C632.4 1017.5 633.7 1001.9 621.4 1025.3C609 1048.6 614.9 1042.2 594.1 1056.4C573.3 1070.7 586.3 1063.6 559 1068.1C531.8 1072.7 540.8 1072.7 512.3 1070.1C483.7 1067.5 499.3 1072.7 473.3 1060.3C447.3 1048 456.4 1057.7 434.4 1033.1C412.3 1008.4 420.7 1020.1 407.1 986.3C393.5 952.6 393.5 969.4 393.5 931.8C393.5 894.1 385.7 896.1 407.1 873.3Z" fill="#5e5e5e" stroke="#5e5e5e" stroke-width="12" stroke-linejoin="round"/>
<path d="M407.1 873.3C428.5 850.6 420.1 865.6 457.7 863.6C495.4 861.7 481.1 859.1 520.1 867.5C559 875.9 542.1 867.5 574.6 888.9C607.1 910.4 598.6 899.3 617.5 931.8C636.3 964.2 629.8 955.2 631.1 986.3C632.4 1017.5 633.7 1001.9 621.4 1025.3C609 1048.6 614.9 1042.2 594.1 1056.4C573.3 1070.7 586.3 1063.6 559 1068.1C531.8 1072.7 540.8 1072.7 512.3 1070.1C483.7 1067.5 499.3 1072.7 473.3 1060.3C447.3 1048 456.4 1057.7 434.4 1033.1C412.3 1008.4 420.7 1020.1 407.1 986.3C393.5 952.6 393.5 969.4 393.5 931.8C393.5 894.1 385.7 896.1 407.1 873.3Z" fill="#2c2c2c" stroke="#2c2c2c" stroke-width="6" stroke-linejoin="round"/>
<path d="M473.3 881.1C491.5 874 498 872.7 520.1 879.2C542.1 885.7 536.9 885.7 539.5 900.6C542.1 915.5 542.1 913.6 527.9 924C513.6 934.4 514.9 933.1 496.7 931.8C478.5 930.5 483.7 930.5 473.3 920.1C462.9 909.7 465.5 913.6 465.5 900.6C465.5 887.6 455.1 888.3 473.3 881.1Z" fill="#4c4c4c"/>
<path d="M414.9 986.3C422.7 974.6 426.6 970.7 442.2 978.5C457.7 986.3 456.4 990.2 461.6 1009.7C466.8 1029.2 466.8 1029.2 457.7 1037C448.6 1044.8 447.3 1040.9 434.4 1033.1C421.4 1025.3 425.3 1029.2 418.8 1013.6C412.3 998 407.1 998 414.9 986.3Z" fill="#444444"/>
<path d="M407.1 885C417.5 869.5 422.7 876.6 442.2 873.3C461.6 870.1 460.3 863.6 465.5 875.3C470.7 887 468.1 893.5 457.7 908.4C447.3 923.3 449.9 916.2 434.4 920.1C418.8 924 420.1 931.8 411 920.1C401.9 908.4 396.7 900.6 407.1 885Z" fill="#050505"/>
<path d="M547.3 896.7C565.5 896.7 562.9 895.4 586.3 912.3C609.7 929.2 603.2 922.7 617.5 947.4C631.7 972 627.8 962.9 629.1 986.3C630.4 1009.7 631.7 996.7 621.4 1017.5C611 1038.3 616.2 1034.4 598 1048.6C579.8 1062.9 592.8 1055.1 566.8 1060.3C540.8 1065.5 548.6 1065.5 520.1 1064.2C491.5 1062.9 500.6 1069.4 481.1 1056.4C461.6 1043.5 469.4 1048.6 461.6 1025.3C453.8 1001.9 453.8 1004.5 457.7 986.3C461.6 968.1 470.7 983.7 473.3 970.7C475.9 957.8 462.9 955.2 465.5 947.4C468.1 939.6 462.9 948.7 481.1 947.4C499.3 946.1 503.2 955.2 520.1 943.5C536.9 931.8 522.7 927.9 531.8 912.3C540.8 896.7 529.2 896.7 547.3 896.7Z" fill="#000000" stroke="#000000" stroke-width="4" stroke-linejoin="round"/>
<ellipse cx="379.8" cy="1019.4" rx="14.8" ry="11.7" fill="#eeeeee"/>
<ellipse cx="422.7" cy="1083.7" rx="17.5" ry="15.6" fill="#eeeeee"/>
<ellipse cx="763.5" cy="1079.8" rx="11.7" ry="15.6" fill="#f6f6f6"/>
<ellipse cx="601.9" cy="814.9" rx="11.7" ry="9.7" fill="#666666"/>
<ellipse cx="559" cy="772.1" rx="11.7" ry="9.7" fill="#909090"/>
<ellipse cx="520.1" cy="795.4" rx="9.7" ry="7.8" fill="#d1d1d1"/>
<ellipse cx="652.5" cy="764.3" rx="7.8" ry="5.8" fill="#5e5e5e"/></g></g><path d="M220.1 809.1L270.7 809.1L301.9 811L314.4 830.5L298 834.4L282.4 839.1L278.5 853.9L273.9 867.5L270.7 885L266.1 900.6L255.2 908.4L247.4 924L242.7 939.6L244.3 957.1L263 978.5L264.9 994.1L267.6 1009.7L276.6 1025.3L286.3 1041.6L298 1056.4L310.5 1072.8L321.4 1087.6L333.9 1100.1L352.6 1109L372 1115.7L403.2 1122.7L414.9 1138.2L423.8 1150.7L424 1151.4L433.4 1157.7L471 1155.3L533.6 1148.3L577.5 1145.2L588.4 1137.3L608.8 1138.9L610.3 1154.6L596.3 1162.4L564.9 1171.8L558.7 1185.9L533.6 1204.7L511.7 1226.6L486.6 1245.4L466.3 1261L453.8 1272L283.1 1272L220.1 1274.6Z" fill="#000"/>
<path d="M656.4 924L675.9 922L699.3 920.1L730.4 922L777.2 924L777.2 1033.1L746 1037L744.1 1079.8L748 1107.1L730.4 1112.9L691.5 1111L672 1116.8L652.5 1112.9L666.2 1087.6L675.9 1061.1L695.4 1033.1L693.4 1009.7L691.5 986.3L687.6 955.2L672 939.6L660.3 931.8Z" fill="#000"/>
<path d="M638.5 1117C642.4 1109.7 641.1 1109.7 651.1 1107.6C661 1105.5 661.2 1105.5 668.3 1110.7C675.3 1115.9 673.2 1115.4 672.2 1123.2C671.2 1131.1 672.7 1130 665.2 1134.2C657.6 1138.4 658.1 1137.3 649.5 1135.8C640.9 1134.2 643 1135.8 639.3 1129.5C635.7 1123.2 634.6 1124.3 638.5 1117Z" fill="#000"/>
<rect x="263" y="970.7" width="13.6" height="39" fill="#fff"/>
<rect x="241.5" y="896.7" width="5.8" height="11.7" fill="#fff"/>
<rect x="707.1" y="970.7" width="9.7" height="23.4" fill="#fff"/>
<rect x="726.5" y="1079.8" width="19.5" height="23.4" fill="#fff"/>
<rect x="278.5" y="832.4" width="7.8" height="6.6" fill="#fff"/>
<rect x="432.4" y="1144.1" width="15.6" height="15.6" fill="#fff"/></svg>
<svg class="abs" style="left:1010px;top:734px" width="554" height="532" viewBox="1010 734 554 532"><defs><filter id="p4j" filterUnits="userSpaceOnUse" x="1010" y="734" width="554" height="532" color-interpolation-filters="sRGB">
<feTurbulence type="fractalNoise" baseFrequency="0.045" numOctaves="2" seed="9" result="n"/>
<feColorMatrix in="n" type="matrix" values="1 0 0 0 0  1 0 0 0 0  1 0 0 0 0  0 0 0 0 1" result="ng"/>
<feComposite in="SourceGraphic" in2="ng" operator="arithmetic" k1="0.32" k2="0.84" k3="0" k4="0" result="v"/>
<feComponentTransfer in="v"><feFuncR type="table" tableValues="0.000 0.000 0.000 0.063 0.094 0.000 0.063 0.753 1.000 1.000 1.000 1.000 1.000 1.000 0.851 1.000"/><feFuncG type="table" tableValues="0.000 0.000 0.000 0.439 0.627 0.863 0.910 0.941 1.000 0.863 0.604 0.416 0.000 0.063 0.702 1.000"/><feFuncB type="table" tableValues="0.000 0.627 0.878 0.941 0.941 0.941 0.000 0.000 0.000 0.000 0.000 0.063 0.094 0.816 0.878 1.000"/><feFuncA type="table" tableValues="1 1"/></feComponentTransfer>
</filter><filter id="p4c" x="-20%" y="-20%" width="140%" height="140%" color-interpolation-filters="sRGB"><feGaussianBlur stdDeviation="5"/></filter><filter id="p4f" x="-20%" y="-20%" width="140%" height="140%" color-interpolation-filters="sRGB"><feGaussianBlur stdDeviation="2.2"/></filter></defs><rect x="1010" y="734" width="554" height="532" fill="#000"/><g filter="url(#p4j)"><rect x="960" y="684" width="654" height="632" fill="#000"/><g filter="url(#p4c)"><rect x="950" y="680" width="700" height="650" fill="#afafaf"/>
<path d="M1243.3 1286.1C1147.4 1269.3 1261.4 1264.1 1289.9 1235.6C1318.4 1207 1305.5 1221.3 1328.8 1200.6C1352.1 1179.8 1336.6 1187.6 1359.9 1173.3C1383.3 1159.1 1372.9 1172.1 1398.8 1157.8C1424.7 1143.5 1411.8 1147.4 1437.7 1130.6C1463.6 1113.7 1450.6 1117.6 1476.6 1107.3C1502.5 1096.9 1481.7 1107.3 1515.4 1099.5C1549.1 1091.7 1556.9 1021.7 1577.7 1083.9C1598.4 1146.1 1689.1 1218.7 1577.7 1286.1C1466.2 1353.5 1339.2 1302.9 1243.3 1286.1Z" fill="#909090"/>
<path d="M1398.8 1122.8C1418.2 1103.4 1418.2 1112.4 1457.1 1103.4C1496 1094.3 1475.3 1094.3 1515.4 1095.6C1555.6 1096.9 1556.9 1087.8 1577.7 1107.3C1598.4 1126.7 1598.4 1140.9 1577.7 1153.9C1556.9 1166.9 1555.6 1146.1 1515.4 1146.1C1475.3 1146.1 1496 1148.7 1457.1 1153.9C1418.2 1159.1 1418.2 1172.1 1398.8 1161.7C1379.4 1151.3 1379.4 1142.2 1398.8 1122.8Z" fill="#aaaaaa"/>
<path d="M998.3 722.3C1038.5 686 1080 712 1118.9 722.3C1157.7 732.7 1124 730.1 1115 753.4C1105.9 776.8 1090.4 762.5 1091.6 792.3C1092.9 822.1 1109.8 813.1 1118.9 842.9C1127.9 872.7 1139 868.8 1118.9 881.7C1098.8 894.7 1098.8 898.6 1058.6 881.7C1018.4 864.9 1018.4 884.3 998.3 831.2C978.2 778.1 958.2 758.6 998.3 722.3Z" fill="#858585"/>
<path d="M998.3 743.7C1007.4 734 1014.2 740.5 1025.6 745.7C1036.9 750.8 1033.7 750.2 1032.4 759.3C1031.1 768.3 1033 767.7 1021.7 772.9C1010.3 778.1 1006.1 784.5 998.3 774.8C990.6 765.1 989.3 753.4 998.3 743.7Z" fill="#252525" stroke="#252525" stroke-width="2" stroke-linejoin="round"/>
<path d="M1019.7 769C1025.6 763.8 1033.3 762.5 1041.1 765.1C1048.9 767.7 1048.9 771.6 1043 776.8C1037.2 782 1031.4 783.2 1023.6 780.7C1015.8 778.1 1013.9 774.2 1019.7 769Z" fill="#c4c4c4"/>
<path d="M1010 778.7C1008.7 785.2 1017.8 789.7 1037.2 782.6C1056.7 775.5 1050.2 777.4 1068.3 757.3C1086.5 737.2 1098.1 734 1091.6 722.3C1085.2 710.7 1069.6 714.6 1048.9 722.3C1028.1 730.1 1032 732.1 1029.4 745.7C1026.8 759.3 1047.6 752.1 1041.1 763.2C1034.6 774.2 1011.3 772.2 1010 778.7Z" fill="#aaaaaa"/>
<path d="M1118.9 722.3C1144.8 710.7 1175.9 710.7 1204.4 722.3C1232.9 734 1210.9 740.5 1204.4 757.3C1197.9 774.2 1200.5 767.7 1185 772.9C1169.4 778.1 1177.2 778.1 1157.7 772.9C1138.3 767.7 1139.6 774.2 1126.6 757.3C1113.7 740.5 1092.9 734 1118.9 722.3Z" fill="#afafaf"/>
<path d="M1204.4 722.3C1223.8 712 1242 710.7 1262.7 722.3C1283.5 734 1276.3 743.7 1266.6 757.3C1256.9 770.9 1254.3 764.5 1233.6 763.2C1212.8 761.9 1214.1 767 1204.4 753.4C1194.7 739.8 1185 732.7 1204.4 722.3Z" fill="#909090"/>
<path d="M1033.3 757.3C1043.7 743.1 1039.8 749.6 1068.3 749.6C1096.8 749.6 1092.9 749.6 1118.9 757.3C1144.8 765.1 1133.1 759.3 1146.1 772.9C1159 786.5 1166.8 785.2 1157.7 798.2C1148.7 811.1 1148.7 808.5 1118.9 811.8C1089.1 815 1095.5 814.4 1068.3 807.9C1041.1 801.4 1048.9 809.2 1037.2 792.3C1025.6 775.5 1023 771.6 1033.3 757.3Z" fill="#777777"/>
<path d="M1058.6 842.9C1075.4 829.9 1096.2 833.8 1118.9 842.9C1141.5 851.9 1129.2 855.8 1126.6 870.1C1124 884.3 1130.5 881.7 1111.1 885.6C1091.6 889.5 1085.8 896 1068.3 881.7C1050.8 867.5 1041.8 855.8 1058.6 842.9Z" fill="#808080"/>
<path d="M1046.9 776.8C1053.4 770.3 1058 768.3 1066.4 772.9C1074.8 777.4 1074.8 781.3 1072.2 790.4C1069.6 799.4 1067 799.4 1058.6 800.1C1050.2 800.7 1050.8 800.1 1046.9 792.3C1043 784.5 1040.5 783.2 1046.9 776.8Z" fill="#474747"/>
<path d="M1083.9 768C1088.4 762.1 1094.6 762.2 1100.4 767C1106.2 771.9 1105.9 776.6 1101.4 782.6C1096.8 788.6 1092.6 789.8 1086.8 784.9C1081 780.1 1079.3 774 1083.9 768Z" fill="#4c4c4c"/>
<path d="M1111.1 772.9C1118.2 765.8 1124.4 765.8 1134.4 770.9C1144.5 776.1 1143.2 778.4 1141.2 788.4C1139.3 798.5 1138 799.8 1128.6 801.1C1119.2 802.4 1118.9 801.7 1113 792.3C1107.2 782.9 1104 780 1111.1 772.9Z" fill="#444444"/>
<path d="M1169.4 781.6C1179.8 775.7 1192.1 775.8 1204.4 780.7C1216.7 785.5 1216.7 790.2 1206.3 796.2C1196 802.2 1185.6 803.4 1173.3 798.5C1161 793.7 1159 787.6 1169.4 781.6Z" fill="#525252"/>
<path d="M1204.4 782.6C1210.6 780.1 1217.7 780.9 1223.8 784.9C1230 789 1229 792.2 1222.9 794.7C1216.7 797.1 1211.5 796.3 1205.4 792.3C1199.2 788.3 1198.2 785.1 1204.4 782.6Z" fill="#1a1a1a"/>
<path d="M1241.3 798.2C1245.1 794.7 1249.1 795.2 1253 799.1C1256.9 803 1256.8 806.4 1253 809.8C1249.2 813.3 1245.6 813.3 1241.7 809.4C1237.8 805.5 1237.6 801.6 1241.3 798.2Z" fill="#2a2a2a"/>
<path d="M1272.4 805.9C1277.9 801.1 1284.1 800.4 1289.9 805C1295.8 809.5 1295.4 814.7 1289.9 819.5C1284.4 824.4 1279.2 824.1 1273.4 819.5C1267.6 815 1266.9 810.8 1272.4 805.9Z" fill="#4c4c4c"/>
<path d="M1151.9 827.3C1155.8 819.5 1162.6 820.2 1169.4 827.3C1176.2 834.4 1176.2 840.9 1172.3 848.7C1168.4 856.5 1164.5 857.8 1157.7 850.6C1150.9 843.5 1148 835.1 1151.9 827.3Z" fill="#585858"/>
<path d="M1175.2 823.4C1187.6 818.9 1201.2 818.6 1214.1 822.5C1227.1 826.3 1226.4 830.6 1214.1 835.1C1201.8 839.6 1190.1 839.9 1177.2 836.1C1164.2 832.2 1162.9 828 1175.2 823.4Z" fill="#696969"/>
<path d="M1233.6 817.6C1242.6 811.8 1253.6 812.4 1262.7 819.5C1271.8 826.7 1269.8 833.1 1260.8 839C1251.7 844.8 1244.6 844.2 1235.5 837C1226.4 829.9 1224.5 823.4 1233.6 817.6Z" fill="#777777"/>
<path d="M1073.2 784.5C1077.7 781.3 1076.4 778.1 1087.8 782.6C1099.1 787.1 1099.1 787.8 1107.2 798.2C1115.3 808.5 1114 807.9 1112.1 813.7C1110.1 819.5 1108.2 820.8 1101.4 815.6C1094.6 810.5 1100.7 805.9 1091.6 798.2C1082.6 790.4 1080.3 796.9 1074.2 792.3C1068 787.8 1068.6 787.8 1073.2 784.5Z" fill="#ffffff" stroke="#ffffff" stroke-width="2" stroke-linejoin="round"/>
<path d="M1120.8 831.2C1122.1 824.1 1124.7 823.7 1134.4 815.6C1144.1 807.5 1133.1 810.8 1150 806.9C1166.8 803 1161.6 804.6 1185 804C1208.3 803.3 1208 801.1 1220 805C1231.9 808.8 1232.6 811.4 1220.9 815.6C1209.3 819.9 1207.3 816.3 1185 817.6C1162.6 818.9 1168.1 816.3 1153.9 819.5C1139.6 822.8 1150 821.5 1142.2 827.3C1134.4 833.1 1137.7 835.7 1130.5 837C1123.4 838.3 1119.5 838.3 1120.8 831.2Z" fill="#ffffff" stroke="#ffffff" stroke-width="3.0" stroke-linejoin="round"/>
<path d="M1185 772.9C1187.6 767.7 1191.4 769 1204.4 767C1217.4 765.1 1209.6 763.2 1223.8 767C1238.1 770.9 1232.9 770.3 1247.2 778.7C1261.4 787.1 1252.4 786.5 1266.6 792.3C1280.9 798.2 1282.2 791 1289.9 796.2C1297.7 801.4 1299 805.3 1289.9 807.9C1280.9 810.5 1279.6 809.2 1262.7 804C1245.9 798.8 1253.6 800.1 1239.4 792.3C1225.1 784.5 1234.2 783.9 1220 780.7C1205.7 777.4 1208.3 785.2 1196.6 782.6C1185 780 1182.4 778.1 1185 772.9Z" fill="#ffffff" stroke="#ffffff" stroke-width="3.0" stroke-linejoin="round"/>
<path d="M1116.5 749.6C1119.1 746.8 1122 747.3 1124.7 750.5C1127.4 753.8 1127.3 756.5 1124.7 759.3C1122.1 762.1 1119.6 762.1 1116.9 758.9C1114.2 755.6 1113.9 752.3 1116.5 749.6Z" fill="#f6f6f6"/>
<path d="M1278.3 730.1C1281.8 725.3 1286 724.9 1289.9 730.1C1293.8 735.3 1293.5 740.8 1289.9 745.7C1286.4 750.5 1283.1 749.9 1279.2 744.7C1275.4 739.5 1274.7 735 1278.3 730.1Z" fill="#e6e6e6"/>
<path d="M1142.2 850.6C1149.3 842.9 1151.3 849.3 1165.5 846.8C1179.8 844.2 1165.5 843.5 1185 842.9C1204.4 842.2 1188.8 844.8 1223.8 844.8C1258.8 844.8 1267.9 837.7 1289.9 842.9C1312 848 1308.7 853.9 1289.9 860.4C1271.1 866.8 1262.1 859.1 1233.6 862.3C1205 865.5 1216.7 862.3 1204.4 870.1C1192.1 877.9 1196.6 872.7 1196.6 885.6C1196.6 898.6 1202.5 891.5 1204.4 909C1206.3 926.5 1205 918.7 1202.5 938.1C1199.9 957.6 1205 957.6 1196.6 967.3C1188.2 977 1185.6 977 1177.2 967.3C1168.8 957.6 1172.6 960.2 1171.4 938.1C1170.1 916.1 1171.4 921.3 1173.3 901.2C1175.2 881.1 1182.4 885.6 1177.2 877.9C1172 870.1 1168.8 880.4 1157.7 877.9C1146.7 875.3 1149.3 879.2 1144.1 870.1C1139 861 1135.1 858.4 1142.2 850.6Z" fill="#c9c9c9"/>
<path d="M1146.1 858.4C1152.2 853.2 1159 853.2 1165.5 858.4C1172 863.6 1171.7 868.8 1165.5 874C1159.4 879.2 1153.5 879.2 1147.1 874C1140.6 868.8 1139.9 863.6 1146.1 858.4Z" fill="#e0e0e0"/>
<path d="M1161.6 854.5C1166.8 848 1173.6 846.4 1181.1 847.7C1188.5 849 1189.2 851.9 1184 858.4C1178.8 864.9 1173 868.5 1165.5 867.2C1158.1 865.9 1156.4 861 1161.6 854.5Z" fill="#ffffff" stroke="#ffffff" stroke-width="2" stroke-linejoin="round"/>
<path d="M1188.8 874.9C1192.7 869.1 1196.9 868.8 1201.5 874C1206 879.2 1206.3 884.7 1202.5 890.5C1198.6 896.3 1194.4 896.6 1189.8 891.5C1185.3 886.3 1185 880.8 1188.8 874.9Z" fill="#ffffff" stroke="#ffffff" stroke-width="2" stroke-linejoin="round"/>
<path d="M1161.6 889.5C1165.5 870.1 1170.1 870.1 1175.2 889.5C1180.4 909 1181.1 928.4 1177.2 947.8C1173.3 967.3 1168.8 967.3 1163.6 947.8C1158.4 928.4 1157.7 909 1161.6 889.5Z" fill="#909090"/>
<path d="M1154.8 965.3C1162.6 951.1 1163.3 958.9 1177.2 963.4C1191.1 967.9 1190.1 964.7 1196.6 978.9C1203.1 993.2 1210.9 997.1 1196.6 1006.2C1182.4 1015.2 1167.8 1019.8 1153.9 1006.2C1139.9 992.6 1147.1 979.6 1154.8 965.3Z" fill="#ffffff" stroke="#ffffff" stroke-width="3.0" stroke-linejoin="round"/>
<path d="M1075.1 959.5C1083.5 943.3 1090 948.5 1099.4 957.6C1108.8 966.6 1102.7 970.5 1103.3 986.7C1104 1002.9 1111.1 999.7 1101.4 1006.2C1091.6 1012.6 1082.9 1021.7 1074.2 1006.2C1065.4 990.6 1066.7 975.7 1075.1 959.5Z" fill="#ffffff" stroke="#ffffff" stroke-width="3.0" stroke-linejoin="round"/>
<path d="M1228.7 722.3C1325.9 715.9 1423.1 716.8 1520.3 722.3C1617.5 727.8 1539.7 732.1 1520.3 738.9C1500.8 745.7 1500.8 740.8 1462 742.7C1423.1 744.7 1462 744 1403.6 744.7C1345.3 745.3 1345.3 745.7 1287 744.7C1228.7 743.7 1248.1 749.2 1228.7 741.8C1209.2 734.3 1131.5 728.8 1228.7 722.3Z" fill="#ffffff" stroke="#ffffff" stroke-width="2" stroke-linejoin="round"/>
<path d="M1228.7 742.7C1248.1 740.2 1228.7 744.6 1287 745.7C1345.3 746.8 1338.8 746.7 1403.6 746.1C1468.4 745.4 1427 745.1 1481.4 743.7C1535.8 742.3 1538.4 737.9 1566.9 741.8C1595.4 745.7 1595.4 750.7 1566.9 755.4C1538.4 760 1535.8 755 1481.4 755.8C1427 756.6 1468.4 757.7 1403.6 757.7C1338.8 757.7 1345.3 757.2 1287 755.8C1228.7 754.3 1248.1 757.8 1228.7 753.4C1209.2 749.1 1209.2 745.3 1228.7 742.7Z" fill="#d1d1d1"/>
<path d="M1471.7 766.1C1484.6 760.6 1488.5 764.8 1520.3 763.2C1552 761.5 1551.4 751.5 1566.9 761.2C1582.5 770.9 1579.2 782.3 1566.9 792.3C1554.6 802.4 1558.5 795.6 1530 791.3C1501.5 787.1 1500.8 788.1 1481.4 779.7C1462 771.3 1458.7 771.6 1471.7 766.1Z" fill="#5e5e5e"/>
<path d="M1481.4 777.7C1494.4 775.3 1513.8 775.2 1530 779.1C1546.2 783 1543 786.9 1530 789.4C1517 791.9 1507.3 790.4 1491.1 786.5C1474.9 782.6 1468.4 780.2 1481.4 777.7Z" fill="#111111"/>
<path d="M1436.7 780.7C1443.2 776.4 1443.8 775.8 1462 779.7C1480.1 783.6 1468.4 786.2 1491.1 792.3C1513.8 798.5 1516.3 792.3 1530 798.2C1543.7 804 1542.1 805.8 1532.3 809.8C1522.6 813.8 1521.1 812.7 1500.8 810.2C1480.6 807.7 1491.1 808.4 1471.7 802.4C1452.2 796.5 1454.2 799.6 1442.5 792.3C1430.9 785.1 1430.2 784.9 1436.7 780.7Z" fill="#ffffff" stroke="#ffffff" stroke-width="3.0" stroke-linejoin="round"/>
<path d="M1364.8 792.3C1390.7 784.9 1397.2 791.3 1442.5 799.1C1487.9 806.9 1459.4 810.1 1500.8 815.6C1542.3 821.2 1544.9 809.2 1566.9 815.6C1589 822.1 1595.4 828.3 1566.9 835.1C1538.4 841.9 1535.8 837.4 1481.4 836.1C1427 834.8 1442.5 836.1 1403.6 831.2C1364.8 826.3 1377.7 834.4 1364.8 821.5C1351.8 808.5 1338.8 799.8 1364.8 792.3Z" fill="#8d8d8d"/>
<path d="M1397.8 804C1401.7 800.1 1405.6 800.1 1409.5 804C1413.4 807.9 1413.4 811.8 1409.5 815.6C1405.6 819.5 1401.7 819.5 1397.8 815.6C1393.9 811.8 1393.9 807.9 1397.8 804Z" fill="#666666"/>
<path d="M1314.2 784.5C1318.6 780.9 1323.3 781 1327.8 784.9C1332.4 788.8 1332.2 792.6 1327.8 796.2C1323.4 799.8 1319.1 799.7 1314.6 795.8C1310.1 791.9 1309.8 788.2 1314.2 784.5Z" fill="#e6e6e6"/>
<path d="M1306.4 848.7C1315.5 846 1317.5 844.2 1335.6 850.6C1353.7 857.1 1353 858.9 1360.9 868.1C1368.8 877.3 1367.7 876.2 1359.3 878.2C1350.9 880.3 1352.6 880.8 1335.6 874.4C1318.6 867.9 1318.1 867.4 1308.4 858.8C1298.7 850.3 1297.4 851.4 1306.4 848.7Z" fill="#d4d4d4" stroke="#d4d4d4" stroke-width="2" stroke-linejoin="round"/>
<path d="M1343.4 866.2C1347.1 863.2 1351.2 863.3 1355 866.6C1358.9 869.8 1358.8 872.9 1355 875.9C1351.3 878.9 1347.7 878.8 1343.8 875.5C1339.9 872.3 1339.6 869.2 1343.4 866.2Z" fill="#ffffff"/>
<path d="M1353.1 836.1C1359.8 832 1367 831.5 1374.5 835.1C1382 838.7 1382.4 842.7 1375.6 846.8C1368.9 850.8 1361.8 850.7 1354.3 847.1C1346.7 843.6 1346.4 840.1 1353.1 836.1Z" fill="#ffffff" stroke="#ffffff" stroke-width="2" stroke-linejoin="round"/>
<path d="M1403.6 850.6C1410.1 845.5 1410.1 847.4 1442.5 844.8C1474.9 842.2 1459.4 842.9 1500.8 842.9C1542.3 842.9 1544.9 831.8 1566.9 844.8C1589 857.8 1579.2 866.8 1566.9 881.7C1554.6 896.6 1558.5 887.6 1530 889.5C1501.5 891.5 1507.3 892.8 1481.4 887.6C1455.5 882.4 1471.7 883 1452.2 874C1432.8 864.9 1439.3 868.1 1423.1 860.4C1406.9 852.6 1397.2 855.8 1403.6 850.6Z" fill="#3c3c3c" stroke="#3c3c3c" stroke-width="4" stroke-linejoin="round"/>
<path d="M1458.1 858.4C1464.6 851.9 1457.4 853.9 1481.4 854.5C1505.4 855.2 1513.8 850 1530 860.4C1546.2 870.7 1543 877.2 1530 885.6C1517 894.1 1513.8 889.5 1491.1 885.6C1468.4 881.7 1473 883 1462 874C1450.9 864.9 1451.6 864.9 1458.1 858.4Z" fill="#0e0e0e"/>
<path d="M1471.7 864.2C1476.1 861.3 1480.8 861.4 1485.3 864.6C1489.8 867.9 1489.7 871 1485.3 874C1480.9 876.9 1476.6 876.8 1472.1 873.6C1467.5 870.3 1467.3 867.2 1471.7 864.2Z" fill="#666666"/>
<path d="M1462 842.9C1490.5 839.5 1531.9 838.7 1566.9 842.9C1601.9 847.1 1595.4 852.1 1566.9 855.5C1538.4 858.9 1516.4 857.2 1481.4 853C1446.4 848.8 1433.4 846.2 1462 842.9Z" fill="#555555"/>
<path d="M1392 850.6C1394.6 845.5 1399.8 848 1411.4 854.5C1423.1 861 1416.6 859.1 1427 870.1C1437.3 881.1 1437.9 879 1442.5 887.6C1447.2 896.1 1447.4 895.1 1441 895.7C1434.5 896.4 1435.5 898.1 1423.1 889.5C1410.6 881 1414 883 1403.6 870.1C1393.3 857.1 1389.4 855.8 1392 850.6Z" fill="#ffffff" stroke="#ffffff" stroke-width="4" stroke-linejoin="round"/>
<path d="M1458.1 896.9C1473.6 890.6 1490.5 890.1 1506.7 895.7C1522.9 901.4 1522.2 907.5 1506.7 913.8C1491.1 920.2 1476.2 920.4 1460 914.8C1443.8 909.2 1442.5 903.3 1458.1 896.9Z" fill="#ffffff" stroke="#ffffff" stroke-width="3.0" stroke-linejoin="round"/>
<path d="M1506.7 887.6C1526.4 879.5 1546.8 878.5 1566.9 885.6C1587 892.8 1586.7 900.9 1566.9 909C1547.2 917.1 1527.7 917.1 1507.6 909.9C1487.6 902.8 1486.9 895.7 1506.7 887.6Z" fill="#e2e2e2"/>
<path d="M1537.8 876.9C1547.4 873 1557.2 872.3 1566.9 875.9C1576.7 879.5 1576.5 883.7 1566.9 887.6C1557.3 891.5 1547.9 891.1 1538.2 887.6C1528.4 884 1528.2 880.8 1537.8 876.9Z" fill="#ffffff"/>
<path d="M1442.5 889.5C1446.4 886.3 1452.2 888.9 1458.1 895.4C1463.9 901.8 1463.9 905.7 1460 909C1456.1 912.2 1452.2 911.6 1446.4 905.1C1440.6 898.6 1438.6 892.8 1442.5 889.5Z" fill="#b2b2b2"/>
<path d="M1468.8 920.6C1483 909 1479.2 916.7 1515.4 916.7C1551.7 916.7 1556.9 875.3 1577.7 920.6C1598.4 966 1594.5 1008.8 1577.7 1052.8C1560.8 1096.9 1550.4 1060.6 1527.1 1052.8C1503.8 1045 1520.6 1052.8 1507.7 1029.5C1494.7 1006.2 1499.9 1008.8 1488.2 982.8C1476.6 956.9 1479.2 972.5 1472.7 951.7C1466.2 931 1454.5 932.3 1468.8 920.6Z" fill="#3c3c3c" stroke="#3c3c3c" stroke-width="4" stroke-linejoin="round"/>
<path d="M1531 951.7C1538.8 936.2 1550.4 949.1 1562.1 967.3C1573.8 985.4 1573.8 990.6 1566 1006.2C1558.2 1021.7 1550.4 1032.1 1538.8 1013.9C1527.1 995.8 1523.2 967.3 1531 951.7Z" fill="#666666"/>
<path d="M1429.9 905.1C1440.3 898.6 1446.8 896 1464.9 916.7C1483 937.5 1475.3 929.7 1484.3 967.3C1493.4 1004.9 1497.3 995.8 1492.1 1029.5C1486.9 1063.2 1486.9 1052.8 1468.8 1068.4C1450.6 1083.9 1448.1 1089.1 1437.7 1076.1C1427.3 1063.2 1436.4 1063.2 1437.7 1029.5C1439 995.8 1442.9 1006.2 1441.6 975.1C1440.3 944 1437.7 959.5 1433.8 936.2C1429.9 912.8 1419.5 911.6 1429.9 905.1Z" fill="#8d8d8d"/>
<path d="M1457.1 920.6C1462.3 912.8 1468.8 920.6 1476.6 936.2C1484.3 951.7 1485.6 959.5 1480.5 967.3C1475.3 975.1 1468.8 975.1 1461 959.5C1453.2 944 1451.9 928.4 1457.1 920.6Z" fill="#6e6e6e"/>
<path d="M1113 897.3C1121.8 881.1 1121.5 887.6 1138.3 887.6C1155.2 887.6 1154.5 881.1 1163.6 897.3C1172.6 913.5 1168.8 912.8 1165.5 936.2C1162.3 959.5 1156.4 944 1153.9 967.3C1151.3 990.6 1161.6 984.1 1157.7 1006.2C1153.9 1028.2 1152.6 1033.4 1142.2 1033.4C1131.8 1033.4 1131.8 1028.2 1126.6 1006.2C1121.5 984.1 1131.6 990.6 1126.6 967.3C1121.7 944 1116.4 959.5 1111.9 936.2C1107.3 912.8 1104.2 913.5 1113 897.3Z" fill="#6b6b6b" stroke="#6b6b6b" stroke-width="8" stroke-linejoin="round"/>
<path d="M1122.8 901.2C1129.5 891.5 1130.5 894.1 1142.2 895.4C1153.9 896.6 1153.2 892.8 1157.7 905.1C1162.3 917.4 1163.6 920.6 1155.8 932.3C1148 944 1145.7 942.7 1134.4 940.1C1123.1 937.5 1125.9 937.5 1122 924.5C1118.1 911.6 1116 910.9 1122.8 901.2Z" fill="#474747"/>
<path d="M1212.2 881.7C1231.6 864.9 1222.5 868.1 1258.8 862.3C1295.1 856.5 1282.2 856.5 1321 864.2C1359.9 872 1344.4 866.8 1375.5 885.6C1406.6 904.4 1394.9 890.8 1414.4 920.6C1433.8 950.4 1429.9 942.7 1433.8 975.1C1437.7 1007.5 1440.3 993.2 1426 1017.8C1411.8 1042.4 1418.2 1036 1391 1048.9C1363.8 1061.9 1378.1 1053.5 1344.4 1056.7C1310.7 1059.9 1321 1063.8 1289.9 1058.7C1258.8 1053.5 1274.4 1058.7 1251.1 1041.2C1227.7 1023.7 1236.2 1033.4 1220 1006.2C1203.8 978.9 1208.9 990.6 1202.5 959.5C1196 928.4 1197.3 938.8 1200.5 912.8C1203.8 886.9 1192.7 898.6 1212.2 881.7Z" fill="#696969" stroke="#696969" stroke-width="8" stroke-linejoin="round"/>
<path d="M1282.2 885.6C1296.4 875.3 1301.6 876.6 1321 881.7C1340.5 886.9 1336.6 885.6 1340.5 901.2C1344.4 916.7 1347 916.7 1332.7 928.4C1318.4 940.1 1315.9 941.4 1297.7 936.2C1279.6 931 1283.5 929.7 1278.3 912.8C1273.1 896 1267.9 896 1282.2 885.6Z" fill="#888888"/>
<path d="M1262.7 967.3C1273.1 949.1 1270.5 967.3 1293.8 951.7C1317.2 936.2 1310.7 936.2 1332.7 920.6C1354.7 905.1 1340.5 906.4 1359.9 905.1C1379.4 903.8 1371.6 901.2 1391 916.7C1410.5 932.3 1405.9 924.5 1418.2 951.7C1430.6 978.9 1429.3 971.2 1428 998.4C1426.7 1025.6 1431.9 1016.5 1414.4 1033.4C1396.9 1050.2 1406.6 1043.7 1375.5 1048.9C1344.4 1054.1 1352.1 1051.5 1321 1048.9C1289.9 1046.3 1301.6 1055.4 1282.2 1041.2C1262.7 1026.9 1269.2 1030.8 1262.7 1006.2C1256.2 981.5 1252.4 985.4 1262.7 967.3Z" fill="#4c4c4c"/>
<path d="M1313.3 951.7C1326.2 931 1324.9 932.3 1344.4 920.6C1363.8 909 1352.1 909 1371.6 916.7C1391 924.5 1385.2 920.6 1402.7 944C1420.2 967.3 1420.8 959.5 1424.1 986.7C1427.3 1013.9 1428.6 1006.8 1412.4 1025.6C1396.2 1044.4 1402 1037.9 1375.5 1043.1C1348.9 1048.3 1354.7 1050.9 1332.7 1041.2C1310.7 1031.4 1318.4 1033.4 1309.4 1013.9C1300.3 994.5 1304.2 1003.6 1305.5 982.8C1306.8 962.1 1300.3 972.5 1313.3 951.7Z" fill="#363636"/>
<path d="M1371.6 928.4C1384.5 933.6 1382 932.3 1398.8 951.7C1415.7 971.2 1418.2 963.4 1422.1 986.7C1426 1010 1426 1003.6 1410.5 1021.7C1394.9 1039.9 1401.4 1036 1375.5 1041.2C1349.6 1046.3 1350.9 1048.9 1332.7 1037.3C1314.6 1025.6 1318.4 1024.3 1321 1006.2C1323.6 988 1331.4 1001 1340.5 982.8C1349.6 964.7 1341.8 967.3 1348.3 951.7C1354.7 936.2 1352.1 944 1359.9 936.2C1367.7 928.4 1358.6 923.2 1371.6 928.4Z" fill="#1f1f1f" stroke="#1f1f1f" stroke-width="2" stroke-linejoin="round"/>
<path d="M1165.5 951.7C1179.8 951.7 1177.2 954.3 1192.7 975.1C1208.3 995.8 1192.7 988 1212.2 1013.9C1231.6 1039.9 1225.1 1033.4 1251.1 1052.8C1277 1072.3 1253.6 1064.5 1289.9 1072.3C1326.2 1080 1331.4 1065.8 1359.9 1076.1C1388.4 1086.5 1378.1 1082.6 1375.5 1103.4C1372.9 1124.1 1383.3 1122.8 1352.1 1138.4C1321 1153.9 1323.6 1150 1282.2 1150C1240.7 1150 1258.8 1152.6 1227.7 1138.4C1196.6 1124.1 1212.2 1130.6 1188.8 1107.3C1165.5 1083.9 1172 1096.9 1157.7 1068.4C1143.5 1039.9 1148.7 1052.8 1146.1 1021.7C1143.5 990.6 1143.5 998.4 1150 975.1C1156.4 951.7 1151.3 951.7 1165.5 951.7Z" fill="#c5c5c5"/>
<path d="M1173.3 998.4C1183.7 990.6 1181.1 990.6 1204.4 1006.2C1227.7 1021.7 1217.4 1024.3 1243.3 1045C1269.2 1065.8 1271.8 1054.1 1282.2 1068.4C1292.5 1082.6 1289.9 1082.6 1274.4 1087.8C1258.8 1093 1261.4 1093 1235.5 1083.9C1209.6 1074.9 1217.4 1078.7 1196.6 1060.6C1175.9 1042.4 1181.1 1050.2 1173.3 1029.5C1165.5 1008.8 1162.9 1006.2 1173.3 998.4Z" fill="#d3d3d3"/>
<path d="M1153.9 967.3C1160.3 956.9 1167.5 960.8 1181.1 967.3C1194.7 973.8 1193.4 974.4 1194.7 986.7C1196 999 1196 1000.3 1185 1004.2C1173.9 1008.1 1172 1010.7 1161.6 998.4C1151.3 986.1 1147.4 977.6 1153.9 967.3Z" fill="#ffffff" stroke="#ffffff" stroke-width="2" stroke-linejoin="round"/>
<path d="M1196.6 1029.5C1205 1023 1205 1020.4 1220 1025.6C1234.9 1030.8 1236.2 1032.1 1241.3 1045C1246.5 1058 1246.5 1058.7 1235.5 1064.5C1224.5 1070.3 1221.9 1069 1208.3 1062.5C1194.7 1056.1 1198.6 1056.1 1194.7 1045C1190.8 1034 1188.2 1036 1196.6 1029.5Z" fill="#ffffff" stroke="#ffffff" stroke-width="2" stroke-linejoin="round"/>
<path d="M1074.2 963.4C1082.6 953 1085.8 947.8 1095.5 959.5C1105.3 971.2 1094.2 971.2 1103.3 998.4C1112.4 1025.6 1107.2 1012.6 1122.8 1041.2C1138.3 1069.7 1133.1 1059.9 1150 1083.9C1166.8 1107.9 1170.7 1101.4 1173.3 1113.1C1175.9 1124.7 1173.3 1124.7 1157.7 1118.9C1142.2 1113.1 1146.1 1115 1126.6 1095.6C1107.2 1076.1 1115 1085.2 1099.4 1060.6C1083.9 1036 1089.7 1045 1080 1021.7C1070.3 998.4 1072.2 1010 1070.3 990.6C1068.3 971.2 1065.7 973.8 1074.2 963.4Z" fill="#ffffff" stroke="#ffffff" stroke-width="6" stroke-linejoin="round"/>
<path d="M1192.7 858.4C1205.7 848 1200.5 847.4 1243.3 842.9C1286 838.3 1282.2 839.6 1321 844.8C1359.9 850 1349.6 851.3 1359.9 858.4C1370.3 865.5 1367.7 866.8 1352.1 866.2C1336.6 865.5 1347 859.7 1313.3 856.5C1279.6 853.2 1287.3 850.6 1251.1 856.5C1214.8 862.3 1223.8 873.3 1204.4 874C1185 874.6 1179.8 868.8 1192.7 858.4Z" fill="#c9c9c9"/></g><g filter="url(#p4f)"><ellipse cx="1359.9" cy="1138.4" rx="27.2" ry="7" fill="#ffffff"/>
<ellipse cx="1227.7" cy="1130.6" rx="15.6" ry="7" fill="#f6f6f6"/>
<ellipse cx="1383.3" cy="1161.7" rx="15.6" ry="7.8" fill="#eeeeee"/>
<ellipse cx="1437.7" cy="1192.8" rx="11.7" ry="9.7" fill="#777777"/>
<ellipse cx="1496" cy="1220" rx="11.7" ry="11.7" fill="#777777"/>
<ellipse cx="1398.8" cy="1239.4" rx="11.7" ry="9.7" fill="#777777"/>
<ellipse cx="1527.1" cy="1173.3" rx="11.7" ry="9.7" fill="#777777"/>
<ellipse cx="1468.8" cy="1161.7" rx="15.6" ry="11.7" fill="#afafaf"/>
<ellipse cx="1359.9" cy="1220" rx="15.6" ry="11.7" fill="#aaaaaa"/>
<ellipse cx="1538.8" cy="1239.4" rx="15.6" ry="13.6" fill="#aaaaaa"/>
<ellipse cx="1227.7" cy="951.7" rx="15.6" ry="11.7" fill="#888888"/>
<ellipse cx="1243.3" cy="916.7" rx="11.7" ry="9.7" fill="#636363"/></g></g><path d="M1006.1 819.5L1029.4 811.8L1052.8 807.9L1068.3 813.7L1097.5 817.6L1101.4 825.4L1087.8 835.1L1074.2 839L1058.6 850.6L1056.7 860.4L1045 866.2L1068.3 877.9L1066.4 893.4L1048.9 897.3L1035.3 909L1035.3 928.4L1045 947.8L1052.8 967.3L1058.6 999.9L1080 1029.5L1095.5 1056.7L1118.9 1083.9L1142.2 1103.4L1173.3 1115L1196.6 1126.7L1220 1146.1L1235.5 1161.7L1258.8 1157.8L1289.9 1153.9L1321 1152L1352.1 1146.1L1383.3 1138.4L1402.7 1138.4L1398.8 1146.1L1375.5 1157.8L1352.1 1169.5L1336.6 1188.9L1313.3 1208.3L1297.7 1227.8L1282.2 1239.4L1266.6 1255L1256.9 1270.5L1006.1 1270.5Z" fill="#000"/>
<path d="M1474.6 1050.9L1499.9 1048.9L1527.1 1056.7L1523.2 1076.1L1496 1099.5L1476.6 1083.9Z" fill="#000"/>
<path d="M1449.3 1107.3L1464.9 1103.4L1466.8 1117L1451.3 1118.9Z" fill="#000"/>
<path d="M1488.2 944L1503.8 967.3L1515.4 1006.2L1503.8 1013.9L1492.1 982.8Z" fill="#000"/>
<ellipse cx="1023.6" cy="1045" rx="10.9" ry="15.6" fill="#0000c0"/><ellipse cx="1023.6" cy="1045" rx="6.5" ry="9.3" fill="#1070f0"/>
<ellipse cx="1080" cy="1095.6" rx="12.4" ry="11.7" fill="#0000c0"/><ellipse cx="1080" cy="1095.6" rx="7.5" ry="7" fill="#1070f0"/>
<ellipse cx="1021.7" cy="1206.4" rx="12.4" ry="14" fill="#0000c0"/><ellipse cx="1021.7" cy="1206.4" rx="7.5" ry="8.4" fill="#1070f0"/>
<ellipse cx="1046.9" cy="1253.1" rx="21.4" ry="13.6" fill="#0000c0"/><ellipse cx="1046.9" cy="1253.1" rx="12.8" ry="8.2" fill="#1070f0"/>
<ellipse cx="1048.9" cy="978.9" rx="15.6" ry="27.2" fill="#0000c0"/><ellipse cx="1048.9" cy="978.9" rx="9.3" ry="16.3" fill="#1070f0"/>
<ellipse cx="1247.2" cy="1249.2" rx="11.7" ry="6.2" fill="#0000c0"/><ellipse cx="1247.2" cy="1249.2" rx="7" ry="3.7" fill="#1070f0"/>
<ellipse cx="1033.3" cy="835.1" rx="15.6" ry="9.7" fill="#0000c0"/><ellipse cx="1033.3" cy="835.1" rx="9.3" ry="5.8" fill="#1070f0"/>
<ellipse cx="1045" cy="897.3" rx="9.7" ry="15.6" fill="#0000c0"/><ellipse cx="1045" cy="897.3" rx="5.8" ry="9.3" fill="#1070f0"/></svg>
<svg class="abs" style="left:1654px;top:737px" width="554" height="533" viewBox="1654 737 554 533"><defs>
<filter id="p5b" x="-10%" y="-10%" width="120%" height="120%" color-interpolation-filters="sRGB"><feGaussianBlur stdDeviation="1.8"/></filter>
<filter id="p5b2" x="-10%" y="-10%" width="120%" height="120%" color-interpolation-filters="sRGB"><feGaussianBlur stdDeviation="4"/></filter>
<filter id="p5n" filterUnits="userSpaceOnUse" x="1654" y="737" width="554" height="533" color-interpolation-filters="sRGB">
<feTurbulence type="fractalNoise" baseFrequency="0.07" numOctaves="1" seed="4" result="n"/>
<feColorMatrix in="n" type="matrix" values="1 0 0 0 0  1 0 0 0 0  1 0 0 0 0  0 0 0 0 0.5" result="ng"/>
<feComposite in="SourceGraphic" in2="ng" operator="arithmetic" k1="0.9" k2="0.55" k3="0" k4="0"/>
<feGaussianBlur stdDeviation="1.8"/>
</filter></defs><rect x="1654" y="737" width="554" height="533" fill="#000"/><g filter="url(#p5b2)"><path d="M1694.9 883.2C1700.8 869.6 1700.8 873.5 1718.3 871.5C1735.9 869.6 1741.7 867.6 1747.6 877.4C1753.4 887.1 1740.7 881.2 1735.9 900.7C1731 920.2 1732.9 914.4 1732.9 935.8C1732.9 957.3 1737.8 950.5 1735.9 965.1C1733.9 979.7 1734.9 985.5 1727.1 979.7C1719.3 973.8 1721.3 969.9 1712.5 947.5C1703.7 925.1 1706.6 933.9 1700.8 912.4C1694.9 891 1689.1 896.8 1694.9 883.2Z" fill="#3a3a3a"/><path d="M2082.5 729.2C2120.2 724.7 2170.8 719.5 2215 729.2C2259.1 738.9 2233.1 751.3 2215 758.4C2196.8 765.6 2198.1 755.8 2160.4 750.6C2122.8 745.4 2128 750 2102 742.8C2076 735.7 2044.9 733.8 2082.5 729.2Z" fill="#303030"/><path d="M2050.3 880.4C2054 872.4 2067.9 873.1 2083.2 878.3C2098.6 883.4 2100 887.8 2096.4 895.8C2092.7 903.8 2087.6 907.5 2072.2 902.4C2056.9 897.3 2046.7 888.5 2050.3 880.4Z" fill="#484848"/><path d="M2105.2 887C2116.1 878.3 2114.7 880.4 2149 878.3C2183.3 876.1 2188.4 874.6 2208 880.4C2227.7 886.3 2224 889.2 2208 895.8C2192 902.4 2190.6 897.3 2160 900.2C2129.4 903.1 2134.4 909 2116.1 904.6C2097.8 900.2 2094.2 895.8 2105.2 887Z" fill="#282828"/><path d="M2138.1 922.1C2146.8 915.5 2152.7 918.5 2171 913.4C2189.2 908.2 2184.1 905.3 2192.9 906.8C2201.7 908.2 2204.6 910.4 2197.3 917.7C2190 925.1 2188.5 923.6 2171 928.7C2153.4 933.8 2155.6 935.3 2144.6 933.1C2133.7 930.9 2129.3 928.7 2138.1 922.1Z" fill="#585858"/><path d="M1926.7 1087.6C1944.9 1068.1 1952.7 1083.7 2004.6 1083.7C2056.5 1083.7 2043.6 1075.9 2082.5 1087.6C2121.5 1099.3 2121.5 1095.4 2121.5 1118.8C2121.5 1142.1 2121.5 1142.1 2082.5 1157.7C2043.6 1173.3 2048.8 1170.7 2004.6 1165.5C1960.5 1160.3 1976 1168.1 1950.1 1142.1C1924.1 1116.2 1908.5 1107.1 1926.7 1087.6Z" fill="#121212"/><path d="M1692 757.5C1692 750.6 1700.8 750.6 1712.5 763.3C1724.2 776 1727.1 788.7 1727.1 795.5C1727.1 802.3 1724.2 796.5 1712.5 783.8C1700.8 771.1 1692 764.3 1692 757.5Z" fill="#282828"/><path d="M1753.4 772.1C1757.8 768.2 1763.6 768.7 1768 773.5C1772.4 778.4 1771 782.8 1766.6 786.7C1762.2 790.6 1759.3 790.1 1754.9 785.2C1750.5 780.4 1749 776 1753.4 772.1Z" fill="#404040"/><path d="M1773.9 775C1773.9 767.2 1776.8 768.2 1782.7 777.9C1788.5 787.7 1791.4 796.5 1791.4 804.3C1791.4 812 1788.5 811.1 1782.7 801.3C1776.8 791.6 1773.9 782.8 1773.9 775Z" fill="#303030"/><path d="M2111.7 966C2116.8 952.8 2124.2 955.8 2138.1 961.6C2151.9 967.5 2151.2 968.9 2153.4 983.5C2155.6 998.2 2154.9 999.6 2144.6 1005.5C2134.4 1011.3 2133.7 1014.3 2122.7 1001.1C2111.7 987.9 2106.6 979.2 2111.7 966Z" fill="#6a6a6a"/><path d="M2121.5 1103.2C2140.9 1092.8 2168.2 1091.5 2199.4 1099.3C2230.5 1107.1 2234.4 1116.2 2215 1126.6C2195.5 1136.9 2172.1 1138.2 2140.9 1130.5C2109.8 1122.7 2102 1113.6 2121.5 1103.2Z" fill="#181818"/></g><g filter="url(#p5b)"><path d="M1848.5 952.8C1851.4 932.4 1847.1 933.1 1861.7 904.6C1876.3 876.1 1865.3 886.7 1892.4 867.3C1919.4 847.9 1915.8 851.9 1942.8 846.5C1969.9 841 1951.6 843.2 1973.5 850.8C1995.5 858.5 1983.8 853.8 2008.6 869.5C2033.5 885.2 2023.3 877.5 2048.1 898C2073 918.5 2064.2 909.7 2083.2 930.9C2102.2 952.1 2092.7 941.1 2105.2 961.6C2117.6 982.1 2113.8 975.5 2120.5 992.3C2127.2 1009.1 2125.9 998.9 2125.3 1012.1C2124.7 1025.2 2126.1 1018.6 2118.7 1031.8C2111.4 1045 2112.7 1039.7 2103.4 1051.5C2094.1 1063.4 2097.3 1063.7 2090.9 1067.3C2084.5 1071 2081.8 1071.4 2084.3 1062.5C2086.9 1053.6 2091.6 1055.2 2098.6 1040.6C2105.5 1025.9 2117.6 1052.3 2105.2 1018.6C2092.7 985 2105.2 980.6 2061.3 939.7C2017.4 898.7 2024.7 908.2 1973.5 895.8C1922.4 883.4 1937.7 891.4 1907.7 902.4C1877.8 913.4 1893.1 909 1883.6 928.7C1874.1 948.4 1882.1 943.3 1879.2 961.6C1876.3 979.9 1879.2 977 1874.8 983.5C1870.4 990.1 1873.4 987.2 1866.1 981.3C1858.8 975.5 1858.8 975.5 1852.9 966C1847.1 956.5 1845.6 973.3 1848.5 952.8Z" fill="#ffffff"/><path d="M2144.6 1005.5C2151.2 990.1 2149.8 995.2 2162.2 992.3C2174.6 989.4 2169.5 987.9 2181.9 996.7C2194.4 1005.5 2191.3 1004 2199.5 1018.6C2207.7 1033.3 2205.6 1024.5 2206.5 1040.6C2207.4 1056.7 2208.1 1050.8 2202.1 1066.9C2196.1 1083 2200.3 1077.9 2188.5 1088.8C2176.7 1099.8 2180.8 1093.8 2166.6 1099.8C2152.3 1105.8 2154.4 1116.3 2145.7 1106.8C2137.1 1097.3 2141.8 1094.1 2140.7 1071.3C2139.6 1048.5 2141.1 1060.3 2142.4 1038.4C2143.8 1016.4 2138.1 1020.8 2144.6 1005.5Z" fill="#ffffff"/><path d="M1858.5 1235.6C1860.5 1225.9 1862.4 1225.2 1872.2 1218.1C1881.9 1211 1885.1 1210.3 1887.7 1214.2C1890.3 1218.1 1887.1 1218.8 1879.9 1229.8C1872.8 1240.8 1873.5 1245.4 1866.3 1247.3C1859.2 1249.3 1856.6 1245.4 1858.5 1235.6Z" fill="#ffffff"/><path d="M1900.2 1200.6C1907.3 1197.6 1915.3 1196.7 1922.8 1198.6C1930.3 1200.6 1929.9 1203.4 1922.8 1206.4C1915.7 1209.4 1908.9 1209.5 1901.4 1207.6C1893.8 1205.6 1893.1 1203.6 1900.2 1200.6Z" fill="#f0f0f0"/></g><g filter="url(#p5n)"><g><path d="M1782.7 918.3C1793.4 907.6 1790.5 909.5 1806 903.7C1821.6 897.8 1817.7 907.6 1829.4 900.7C1841.1 893.9 1831.4 893.9 1841.1 883.2C1850.9 872.5 1853.8 866.6 1858.7 868.6C1863.6 870.5 1863.6 874.4 1855.8 889C1848 903.7 1843.1 894.9 1835.3 912.4C1827.5 930 1835.3 926.1 1832.4 941.7C1829.4 957.3 1832.4 946.6 1826.5 959.2C1820.7 971.9 1820.2 961.2 1814.8 979.7C1809.5 998.2 1809.5 993.3 1810.4 1014.8C1811.4 1036.2 1816.3 1030.4 1817.7 1044C1819.2 1057.7 1820.7 1056.7 1814.8 1055.7C1809 1054.7 1810.9 1053.8 1800.2 1041.1C1789.5 1028.4 1793.4 1035.2 1782.7 1017.7C1771.9 1000.2 1773.9 1008 1768 988.5C1762.2 969 1763.2 976.8 1765.1 959.2C1767.1 941.7 1768 949.5 1773.9 935.8C1779.7 922.2 1771.9 929 1782.7 918.3Z" fill="#ababab"/><path d="M1768.6 970.9C1772 963.1 1774.1 958.2 1779.7 968C1785.4 977.7 1778.8 979.7 1785.6 1000.2C1792.4 1020.6 1790.3 1011.1 1800.2 1029.4C1810.1 1047.7 1815.4 1051.2 1815.4 1055.1C1815.4 1059 1811.1 1053.6 1800.2 1041.1C1789.3 1028.6 1792.9 1034.3 1782.7 1017.7C1772.4 1001.1 1774.2 1007 1769.5 991.4C1764.8 975.8 1765.2 978.7 1768.6 970.9Z" fill="#f5f5f5"/><path d="M1754.9 848.1C1753.9 843.2 1755.9 845.2 1765.1 851C1774.4 856.9 1772.9 859.8 1782.7 865.7C1792.4 871.5 1791.4 862.7 1794.4 868.6C1797.3 874.4 1797.3 878.3 1791.4 883.2C1785.6 888.1 1784.6 889 1776.8 883.2C1769 877.4 1775.3 877.4 1768 865.7C1760.7 854 1755.9 853 1754.9 848.1Z" fill="#ababab"/><path d="M1753.4 892C1757.8 890.5 1763.6 891.5 1768 894.9C1772.4 898.3 1771 900.7 1766.6 902.2C1762.2 903.7 1759.3 902.7 1754.9 899.3C1750.5 895.9 1749 893.4 1753.4 892Z" fill="#c0c0c0"/><path d="M1884 900.2C1895.4 882.3 1894 882.9 1916.5 875C1939 867.1 1932.6 872.8 1951.6 876.5C1970.6 880.2 1958.9 879.5 1973.5 885.9C1988.2 892.4 1982.3 893.1 1995.5 895.8C2008.6 898.5 2001.3 888.2 2013 894C2024.7 899.9 2015.9 899.6 2030.6 913.4C2045.2 927.1 2042.3 922.1 2056.9 935.3C2071.5 948.4 2062.7 938.2 2074.4 952.8C2086.1 967.5 2082.5 961.6 2092 979.2C2101.5 996.7 2100 990.9 2103 1005.5C2105.9 1020.1 2107.3 1011.3 2100.8 1023C2094.2 1034.7 2096.4 1029.6 2083.2 1040.6C2070.1 1051.5 2075.9 1047 2061.3 1055.9C2046.7 1064.8 2051 1060 2039.3 1067.3C2027.6 1074.6 2040.8 1074.9 2026.2 1077.9C2011.6 1080.8 2016.7 1076 1995.5 1076.1C1974.3 1076.3 1980.1 1075.5 1962.6 1078.3C1945 1081.1 1955.3 1085.3 1942.8 1084.4C1930.4 1083.6 1934.1 1087.4 1925.3 1075.7C1916.5 1064 1922.4 1066.9 1916.5 1049.3C1910.7 1031.8 1913.6 1039.1 1907.7 1023C1901.9 1006.9 1905.4 1014.3 1899 1001.1C1892.5 987.9 1894.7 993.8 1888.4 983.5C1882.2 973.3 1882.3 988.7 1880.3 970.4C1878.3 952.1 1881.3 952.1 1882.5 928.7C1883.8 905.3 1872.7 918.1 1884 900.2Z" fill="#f8f8f8"/><path d="M2164.3 1243.4C2168.9 1236.9 2174.7 1237.6 2179.9 1245.4C2185.1 1253.2 2184.5 1260.3 2179.9 1266.8C2175.4 1273.3 2171.5 1272.6 2166.3 1264.9C2161.1 1257.1 2159.8 1249.9 2164.3 1243.4Z" fill="#6b6b6b"/><path d="M1650.1 1243.4C1655.3 1238.2 1660.5 1238.2 1665.7 1243.4C1670.9 1248.6 1670.9 1253.8 1665.7 1259C1660.5 1264.2 1655.3 1264.2 1650.1 1259C1644.9 1253.8 1644.9 1248.6 1650.1 1243.4Z" fill="#606060"/><path d="M2035.8 840.2C2039.7 837 2043.6 837 2047.5 840.2C2051.4 843.5 2051.4 846.7 2047.5 850C2043.6 853.2 2039.7 853.2 2035.8 850C2031.9 846.7 2031.9 843.5 2035.8 840.2Z" fill="#6b6b6b"/></g></g><path d="M1942.8 1093.2C1953.1 1091.4 1948.7 1089.8 1973.5 1087.7C1998.4 1085.7 1995.5 1088.9 2017.4 1087.1C2039.3 1085.2 2024.7 1088.2 2039.3 1082.2C2054 1076.3 2054 1073.5 2061.3 1069.1" fill="none" stroke="#555" stroke-width="2.5" filter="url(#p5b)"/></svg>
<!-- labels -->
<div class="t b" id="t13a" style="left:88px;top:48px;font-size:40px;">13%</div>
<div class="t b" id="t0a" style="left:109px;top:586px;font-size:40px;">0%</div>
<div class="t b rot" id="tnorm" style="left:36px;top:452px;font-size:52px;letter-spacing:1px;">Normal</div>
<div class="t" id="mpf1" style="left:375px;top:639px;font-size:50px;letter-spacing:1.6px;">MPF map</div>
<div class="t b" id="t1500a" style="left:828px;top:43px;font-size:40px;letter-spacing:1.4px;">1500</div>
<div class="t b" id="tmsa" style="left:828px;top:98px;font-size:40px;"><span class="sq">ms</span></div>
<div class="t b" id="t0msa" style="left:857px;top:580px;font-size:40px;">0ms</div>
<div class="t" id="t1m1" style="left:1138px;top:639px;font-size:50px;letter-spacing:1.8px;">T1 map</div>

<div class="t b" id="t13b" style="left:69px;top:727px;font-size:40px;">13%</div>
<div class="t b" id="t0b" style="left:103px;top:1233px;font-size:40px;">0%</div>
<div class="t b rot" id="tinf" style="left:36px;top:1121px;font-size:52px;">Infarcted</div>
<div class="t" id="mpf2" style="left:351px;top:1291px;font-size:50px;letter-spacing:1.6px;">MPF map</div>
<div class="t b" id="t1500b" style="left:846px;top:712px;font-size:40px;letter-spacing:1.4px;">1500</div>
<div class="t b" id="tmsb" style="left:846px;top:767px;font-size:40px;"><span class="sq">ms</span></div>
<div class="t b" id="t0msb" style="left:876px;top:1238px;font-size:40px;">0ms</div>
<div class="t" id="t1m2" style="left:1115px;top:1290px;font-size:50px;letter-spacing:1.8px;">T1 map</div>
<div class="t" id="lge" style="left:1886px;top:1294px;font-size:50px;transform:scaleX(0.875);transform-origin:0 0;">LGE</div>
</body></html>
